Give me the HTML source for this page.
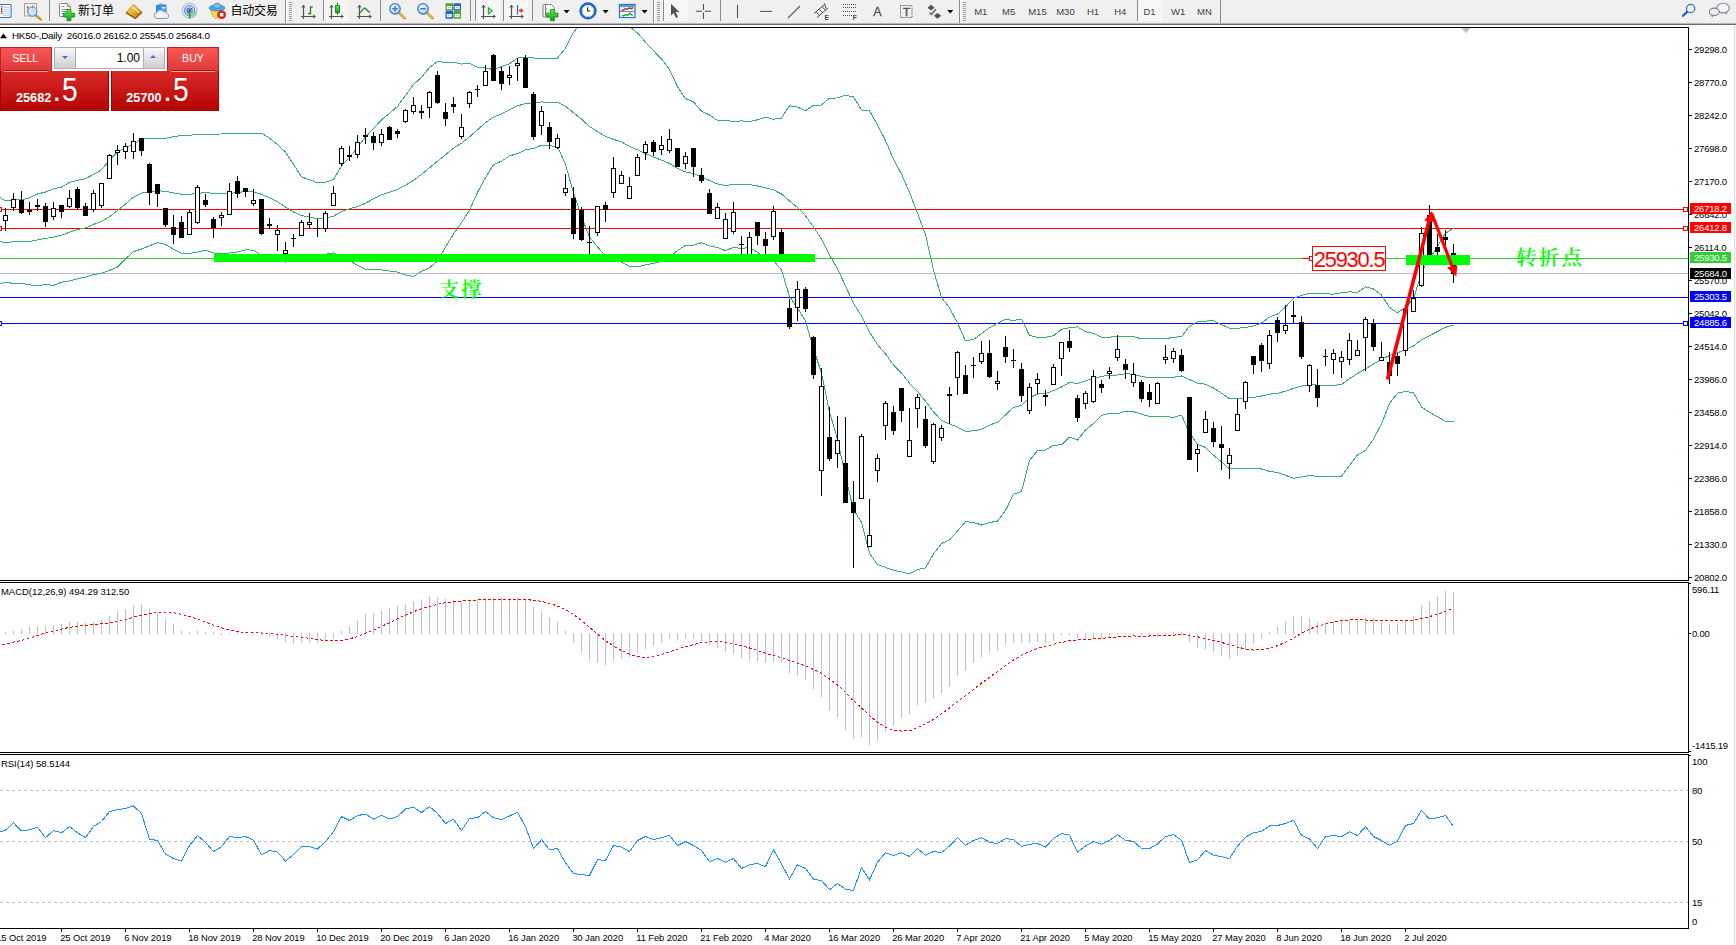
<!DOCTYPE html>
<html lang="zh">
<head>
<meta charset="utf-8">
<title>HK50-,Daily</title>
<style>
html,body{margin:0;padding:0;background:#fff;}
body{width:1736px;height:945px;position:relative;overflow:hidden;font-family:"Liberation Sans","Noto Sans CJK SC",sans-serif;}
#tb{position:absolute;left:0;top:0;width:1736px;height:23px;background:#f0f0f0;}
#tbl1{position:absolute;left:0;top:23px;width:1736px;height:1px;background:#b8b8b8;}
#tbl2{position:absolute;left:0;top:24px;width:1736px;height:1px;background:#6a6a6a;}
#redge{position:absolute;left:1734px;top:25px;width:2px;height:920px;background:#f4f4f4;border-left:1px solid #e0e0e0;box-sizing:border-box;}
#chart{position:absolute;left:0;top:0;}
#chart text{font-family:"Liberation Sans","Noto Sans CJK SC",sans-serif;}
#tp{position:absolute;left:0;top:47px;width:220px;height:64px;font-family:"Liberation Sans",sans-serif;}
#tp div{position:absolute;box-sizing:border-box;}
.tab{background:linear-gradient(#f85656,#e03a3a);border:1px solid #c81e1e;border-bottom:none;color:#fff;font-size:10.700px;text-align:center;line-height:21px;}
.big{background:linear-gradient(#d92a2a,#b50404);border:1px solid #a80000;border-top:none;color:#fff;}
.spin{background:linear-gradient(#f8f8f8,#e4e4e4 45%,#d0d0d0);}
</style>
</head>
<body>
<div id="tb"><svg id="tbs" width="1736" height="23" viewBox="0 0 1736 23" style="position:absolute;left:0;top:0">
<defs>
<pattern id="chk" width="2" height="2" patternUnits="userSpaceOnUse"><rect width="2" height="2" fill="#f0f0f0"/><rect width="1" height="1" fill="#fff"/><rect x="1" y="1" width="1" height="1" fill="#fff"/></pattern>
<linearGradient id="gold" x1="0" y1="0" x2="1" y2="1"><stop offset="0" stop-color="#f8dc70"/><stop offset="0.5" stop-color="#e8b030"/><stop offset="1" stop-color="#a87010"/></linearGradient>
<linearGradient id="grn" x1="0" y1="0" x2="0" y2="1"><stop offset="0" stop-color="#60f060"/><stop offset="1" stop-color="#10a010"/></linearGradient>
<linearGradient id="blu" x1="0" y1="0" x2="0" y2="1"><stop offset="0" stop-color="#58a8f0"/><stop offset="1" stop-color="#1858c0"/></linearGradient>
<radialGradient id="lens" cx="0.4" cy="0.35" r="0.7"><stop offset="0" stop-color="#f4faff"/><stop offset="1" stop-color="#a8cdf0"/></radialGradient>
<g id="axes" stroke="#505050" stroke-width="1.2" fill="none"><path d="M3.5 5.5V19M1 16.5H15"/><path d="M1.8 7.6L3.5 5.2L5.2 7.6M13 14.8L15.4 16.5L13 18.2" stroke-width="1"/></g>
<g id="dd"><path d="M0 10h6l-3 3.4z" fill="#000"/></g>
<g id="grip" stroke="#a0a0a0" stroke-width="1"><path d="M0 1.5h3M0 3.5h3M0 5.5h3M0 7.5h3M0 9.5h3M0 11.5h3M0 13.5h3M0 15.5h3M0 17.5h3M0 19.5h3"/></g>
<g id="plus"><path d="M-1.9 -5.6h3.8v3.7h3.7v3.8h-3.7v3.7h-3.8v-3.7h-3.7v-3.8h3.7z" fill="url(#grn)" stroke="#108010" stroke-width="0.8"/></g>
</defs>
<!-- pressed buttons -->
<rect x="324" y="0" width="24" height="21" fill="url(#chk)"/>
<rect x="476" y="0" width="24" height="21" fill="url(#chk)"/>
<rect x="504" y="0" width="24" height="21" fill="url(#chk)"/>
<rect x="664" y="0" width="24" height="21" fill="url(#chk)"/>
<rect x="1138" y="0" width="24" height="21" fill="url(#chk)"/>
<!-- separators -->
<g fill="#8c8c8c">
<rect x="49" y="0" width="1" height="21"/><rect x="285" y="0" width="1" height="23"/><rect x="323" y="0" width="1" height="21"/>
<rect x="380" y="0" width="1" height="21"/><rect x="470" y="0" width="1" height="21"/><rect x="475" y="0" width="1" height="21"/>
<rect x="503" y="0" width="1" height="21"/><rect x="532" y="0" width="1" height="21"/><rect x="653" y="0" width="1" height="23"/>
<rect x="663" y="0" width="1" height="21"/><rect x="720" y="0" width="1" height="21"/><rect x="959" y="0" width="1" height="23"/>
<rect x="1137" y="0" width="1" height="21"/><rect x="1220" y="0" width="1" height="23"/>
</g>
<g fill="#fff"><rect x="286" y="0" width="1" height="23"/><rect x="654" y="0" width="1" height="23"/><rect x="960" y="0" width="1" height="23"/></g>
<use href="#grip" x="289" y="1"/><use href="#grip" x="657" y="1"/><use href="#grip" x="963" y="1"/>
<!-- 1 list -->
<rect x="-2" y="4.5" width="13" height="13" rx="1" fill="#fff" stroke="#3878c8" stroke-width="1.2"/>
<g stroke="#b8d0f0" stroke-width="1"><path d="M3 7.5h8M3 9.5h8M3 11.5h8M3 13.5h8M3 15.5h8"/></g>
<g><rect x="1" y="6" width="1.4" height="1.4" fill="#e02020"/><rect x="1" y="8.3" width="1.4" height="1.4" fill="#202020"/><rect x="1" y="10.5" width="1.4" height="1.4" fill="#202020"/><rect x="1" y="12.6" width="1.4" height="1.4" fill="#e02020"/></g>
<!-- 2 chart magnifier -->
<rect x="24.5" y="3.5" width="12" height="12.5" fill="#f4f0e8" stroke="#b0a490" stroke-width="1"/>
<path d="M28 6v7M27 7.5h1M28 11h1M33 5.5v7M32 6.5h1M33 10.5h1" stroke="#606060" stroke-width="1" fill="none"/>
<path d="M35.5 15L41 19.6" stroke="#c89820" stroke-width="2.4" stroke-linecap="round"/>
<circle cx="32.3" cy="11.6" r="4.6" fill="#cfe2f6" fill-opacity="0.85" stroke="#5890d8" stroke-width="1.1"/>
<!-- 3 new order -->
<path d="M59.5 4.5q0-1 1-1h6.8l3.2 3.2v8.8q0 1-1 1h-9q-1 0-1-1z" fill="#fff" stroke="#808080" stroke-width="1"/>
<path d="M67.3 3.5v3.2h3.2" fill="#e0e0e0" stroke="#808080" stroke-width="0.8"/>
<path d="M61.5 6.5h3M61.5 9.5h6M61.5 11.5h6M61.5 13.5h3" stroke="#909090" stroke-width="1"/>
<use href="#plus" x="69" y="15.1"/>
<text x="78" y="15" font-size="12" fill="#000">新订单</text>
<!-- 4 gold book -->
<path d="M133.5 4.3L142 12.2L135.3 18.4L126 12.6z" fill="url(#gold)" stroke="#b88418" stroke-width="0.8"/>
<path d="M126 12.6l9.3 5.8 6.7-6.2" fill="none" stroke="#8c5c08" stroke-width="1.4"/>
<path d="M132 6.5l7 6" stroke="#fbe9a0" stroke-width="1.2"/>
<!-- 5 cloud server -->
<path d="M156 5.2l4.5-1.7 6 1.2v7.8h-10.5z" fill="url(#blu)"/>
<path d="M156 5.2l4.5 1 0 6.3h-4.5z" fill="#2a8ae8"/>
<rect x="161.5" y="7" width="4" height="1.6" fill="#e8f4ff"/><rect x="161.5" y="9.6" width="4" height="1" fill="#bcdcf8"/>
<path d="M157.2 18.5a2.9 2.9 0 0 1 -0.3 -5.8a3.6 3.6 0 0 1 6.6 -1a3 3 0 0 1 3.6 2a2.5 2.5 0 0 1 -0.4 4.8z" fill="#eef4fc" stroke="#7c98c8" stroke-width="1"/>
<!-- 6 signals -->
<g fill="none" stroke-width="1.2">
<circle cx="189.6" cy="10.6" r="7.4" stroke="#a8c4ec"/>
<circle cx="189.6" cy="10.6" r="5" stroke="#5888d8"/>
<circle cx="189.6" cy="10.6" r="2.6" stroke="#3060c8"/>
</g>
<path d="M189.6 10.6L197 10.6A7.4 7.4 0 0 1 189.6 18.4z" fill="#8ccc8c" fill-opacity="0.75"/>
<path d="M189.6 10.6v8" stroke="#28a028" stroke-width="1.6"/>
<circle cx="189.6" cy="10.4" r="1.5" fill="#2858c8"/>
<!-- 7 auto trading -->
<path d="M211 9.5l10.5 0l-2 6l-4 3.2l-3 -3z" fill="#f8dc50" stroke="#d0a020" stroke-width="0.8"/>
<ellipse cx="217" cy="8" rx="8" ry="3" fill="#58a8e0" stroke="#3880c0" stroke-width="0.8"/>
<path d="M212.8 7.6q0.6-4.4 4.3-4.4t4.2 4.4q-4.2 1.6-8.5 0z" fill="#78c0ec" stroke="#3880c0" stroke-width="0.8"/>
<circle cx="221.6" cy="14.7" r="4" fill="#e02810" stroke="#b01808" stroke-width="0.6"/>
<rect x="219.9" y="13" width="3.4" height="3.4" fill="#fff"/>
<text x="230.5" y="15" font-size="12" fill="#000" letter-spacing="-0.25">自动交易</text>
<!-- 8 bar chart -->
<use href="#axes" x="300" y="0"/>
<path d="M310.5 6.5v8M310.5 7h2.2M308 13.5h2.5" stroke="#188a18" stroke-width="1.3" fill="none"/>
<!-- 9 candle chart -->
<use href="#axes" x="328" y="0"/>
<path d="M337.5 3v12" stroke="#188a18" stroke-width="1.2"/>
<rect x="335.5" y="5.6" width="4" height="7" fill="url(#grn)" stroke="#188a18" stroke-width="0.9"/>
<!-- 10 line chart -->
<use href="#axes" x="356" y="0"/>
<path d="M358.3 13.8q3.5-2 5-5q1.3-1.6 2.8 0.2q1.6 2.2 3.8 3.4" stroke="#209020" stroke-width="1.3" fill="none"/>
<!-- 11/12 zoom -->
<g id="zin">
<path d="M399.2 13L404.6 18.2" stroke="#c8a020" stroke-width="2.6" stroke-linecap="round"/>
<path d="M399.6 13.4L404.2 17.8" stroke="#f0d868" stroke-width="1" stroke-linecap="round"/>
<circle cx="395" cy="8.8" r="5.2" fill="url(#lens)" stroke="#3878d0" stroke-width="1.3"/>
</g>
<path d="M392.2 8.8h5.6M395 6v5.6" stroke="#4878a8" stroke-width="1.5"/>
<use href="#zin" x="28" y="0"/>
<path d="M420.2 8.8h5.6" stroke="#4878a8" stroke-width="1.5"/>
<!-- 13 tile -->
<g>
<rect x="445.5" y="3.2" width="7.6" height="7.6" rx="0.8" fill="#48a828"/><rect x="453.4" y="3.2" width="7.6" height="7.6" rx="0.8" fill="#2860d0"/>
<rect x="445.5" y="11.1" width="7.6" height="7.6" rx="0.8" fill="#2860d0"/><rect x="453.4" y="11.1" width="7.6" height="7.6" rx="0.8" fill="#48a828"/>
<g fill="#fff"><rect x="446.8" y="6" width="5" height="3.2"/><rect x="454.7" y="6" width="5" height="3.2"/><rect x="446.8" y="14" width="5" height="3.2"/><rect x="454.7" y="14" width="5" height="3.2"/></g>
<g fill="#9cc8f0"><rect x="447.8" y="7" width="3" height="1"/><rect x="455.7" y="7" width="3" height="1"/><rect x="447.8" y="15" width="3" height="1"/><rect x="455.7" y="15" width="3" height="1"/></g>
</g>
<!-- 14 autoscroll -->
<use href="#axes" x="480" y="0"/>
<path d="M488.3 7.4v6.8l4.2-3.4z" fill="#90e890" stroke="#189818" stroke-width="1"/>
<!-- 15 shift -->
<use href="#axes" x="508" y="0"/>
<path d="M517.5 5v9.6" stroke="#2070b8" stroke-width="1.2"/>
<path d="M518.6 10.6l3-2.2v1.5h1.6v1.4h-1.6v1.5z" fill="#e84810" stroke="#c03000" stroke-width="0.4"/>
<!-- 16 indicators -->
<path d="M545.5 4.5h5.8l2.8 2.8v8.4h-8.6z" fill="#fff" stroke="#808080" stroke-width="1"/>
<path d="M543 5.5q0-1 1-1h1.5v11.2h7v0.3q0 1-1 1h-7.500q-1 0-1-1z" fill="#f4f4f4" stroke="#808080" stroke-width="1"/>
<path d="M546.500 8q-1.600 2.500 0 5" fill="none" stroke="#909090" stroke-width="0.9"/>
<use href="#plus" x="552.4" y="15.100"/>
<use href="#dd" x="563.6" y="0"/>
<!-- 17 clock -->
<circle cx="588" cy="10.9" r="7.200" fill="#fff" stroke="#1c6cd0" stroke-width="2.400"/>
<circle cx="588" cy="10.900" r="8.300" fill="none" stroke="#0c4aa0" stroke-width="0.5"/>
<path d="M587.600 7.200v3.800h2.600" stroke="#202020" stroke-width="1.100" fill="none"/><circle cx="588" cy="10.900" r="5.600" fill="none" stroke="#d8e4f4" stroke-width="0.800"/>
<g fill="#808080"><rect x="587.600" y="4.800" width="0.800" height="1"/><rect x="587.600" y="16" width="0.800" height="1"/><rect x="582" y="10.500" width="1" height="0.800"/><rect x="593" y="10.500" width="1" height="0.800"/></g>
<use href="#dd" x="602.600" y="0"/>
<!-- 18 templates -->
<rect x="619.500" y="4.500" width="15.500" height="13" fill="#fff" stroke="#3070c0" stroke-width="1.200"/>
<rect x="620" y="5" width="14.500" height="2.200" fill="#5a9ae0"/>
<path d="M620 11.600h14.500" stroke="#3070c0" stroke-width="0.900"/>
<path d="M621.500 10.200l2-0.200 1.800-1.300 1.800 0.600 2-1.400 2 0.800 2-1" stroke="#a82810" stroke-width="1.300" fill="none"/>
<path d="M622 15.600l2 0.200 1.800-1.300 1.800 0.800 2.200-2 1.600 1.500 1.400 0.600" stroke="#189018" stroke-width="1.300" fill="none"/>
<use href="#dd" x="641.600" y="0"/>
<!-- cursor -->
<path d="M671 3.800v11.700l2.700-2.600 2.300 5.200 2-0.900-2.300-5.100h3.600z" fill="#505050"/>
<!-- crosshair -->
<path d="M703.500 4v6M703.500 12.600v6.400M696 11.300h6.200M704.800 11.300h6.400" stroke="#505050" stroke-width="1.100"/>
<!-- v line, h line, trend -->
<path d="M737.500 5v13" stroke="#585858" stroke-width="1.100"/>
<path d="M760 11.400h12" stroke="#585858" stroke-width="1.100"/>
<path d="M788 18l12-12" stroke="#585858" stroke-width="1.100"/>
<!-- channel E -->
<g stroke="#505050" stroke-width="1" fill="none">
<path d="M814 13.500l11-9.500M817 17.500l11-9.500"/>
<path d="M816 11.700l3.800 4M819 9l3.800 4M822 6.500l3.800 4M824.500 3.500l1.800 5"/>
</g>
<text x="824.600" y="19.800" font-size="6.500" font-weight="bold" fill="#404040">E</text>
<!-- fibo F -->
<g stroke="#505050" stroke-width="1" stroke-dasharray="1 1" fill="none">
<path d="M843 4.500h14M843 7.500h14M843 11.500h14M843 15.500h9"/>
</g>
<text x="852.800" y="19.800" font-size="6.500" font-weight="bold" fill="#404040">F</text>
<!-- A -->
<text x="873.300" y="16" font-size="12.500" fill="#505050" stroke="#505050" stroke-width="0.300">A</text>
<!-- T label -->
<rect x="900.500" y="5.500" width="11.500" height="12" fill="none" stroke="#505050" stroke-width="1" stroke-dasharray="1 1"/>
<text x="902.900" y="16" font-size="11.500" fill="#505050" stroke="#505050" stroke-width="0.400">T</text>
<!-- arrows -->
<path d="M931 4.800l3.400 3-3.400 2.800-3.400-2.800z" fill="#505050"/>
<path d="M937.500 13l3.600 2.800-3.600 3-3.600-3z" fill="#505050"/>
<path d="M929.500 12.600l2 2 4.300-5.400" stroke="#505050" stroke-width="1.300" fill="none"/>
<use href="#dd" x="947.300" y="0"/>
<!-- periods -->
<g font-size="9.500" fill="#404040">
<text x="974.200" y="14.500">M1</text><text x="1002" y="14.500">M5</text><text x="1028.200" y="14.500">M15</text><text x="1056.200" y="14.500">M30</text>
<text x="1087" y="14.500">H1</text><text x="1114.200" y="14.500">H4</text><text x="1143.500" y="14.500">D1</text><text x="1171" y="14.500">W1</text><text x="1197" y="14.500">MN</text>
</g>
<!-- search -->
<path d="M1687.600 11.400L1683 15.800" stroke="#2858c8" stroke-width="2.200" stroke-linecap="round"/>
<circle cx="1690.600" cy="8.500" r="4.100" fill="#f8f8f8" stroke="#2868d8" stroke-width="1.200"/>
<!-- chat -->
<path d="M1727.500 12.500l-1.200 2-1.600-2z" fill="#808080"/>
<ellipse cx="1723" cy="8.100" rx="6.300" ry="4.800" fill="#f6f6fa" stroke="#8a8a8a" stroke-width="1.100"/>
<path d="M1711.200 15l0.800 2.600 2-2.200z" fill="#808080"/>
<ellipse cx="1714.300" cy="11.800" rx="5" ry="3.700" fill="#ececf4" stroke="#808080" stroke-width="1.100"/>
</svg>
</div>
<div id="tbl1"></div><div id="tbl2"></div>
<div id="redge"></div>
<svg id="chart" width="1736" height="945" viewBox="0 0 1736 945">
<defs><clipPath id="cpm"><rect x="0" y="28" width="1688" height="552"/></clipPath></defs>
<g clip-path="url(#cpm)">
<rect x="0" y="209" width="1688" height="1" fill="#ff0000"/>
<rect x="0" y="228" width="1688" height="1" fill="#ff0000"/>
<rect x="0" y="258" width="1688" height="1" fill="#32cd32"/>
<rect x="0" y="273" width="1688" height="1" fill="#c0c0c0"/>
<rect x="0" y="297" width="1688" height="1" fill="#0000ff"/>
<rect x="0" y="323" width="1688" height="1" fill="#0000ff"/>
<polyline points="-2.5,196.0 5.5,201.0 13.5,199.7 21.5,200.0 29.5,197.8 37.5,194.0 45.5,192.0 53.5,188.9 61.5,187.0 69.5,182.5 77.5,180.3 85.5,178.6 93.5,174.4 101.5,169.9 109.5,160.2 117.5,151.8 125.5,147.6 133.5,144.3 141.5,138.6 149.5,138.4 157.5,138.8 165.5,138.2 173.5,136.8 181.5,135.3 189.5,135.2 197.5,134.5 205.5,134.8 213.5,134.1 221.5,134.0 229.5,133.7 237.5,133.3 245.5,133.1 253.5,133.3 261.5,133.2 269.5,138.1 277.5,144.6 285.5,152.1 293.5,164.3 301.5,176.9 309.5,179.8 317.5,182.8 325.5,182.2 333.5,179.4 341.5,165.9 349.5,157.2 357.5,147.7 365.5,136.9 373.5,128.7 381.5,119.8 389.5,113.4 397.5,106.4 405.5,95.5 413.5,84.5 421.5,77.4 429.5,67.5 437.5,61.6 445.5,62.3 453.5,62.1 461.5,64.1 469.5,63.3 477.5,67.2 485.5,67.8 493.5,69.7 501.5,66.6 509.5,63.8 517.5,58.1 525.5,57.2 533.5,57.9 541.5,58.9 549.5,58.6 557.5,58.1 565.5,48.3 573.5,32.4 581.5,21.6 589.5,16.1 597.5,16.7 605.5,16.5 613.5,19.7 621.5,21.2 629.5,26.8 637.5,32.9 645.5,42.2 653.5,50.7 661.5,59.0 669.5,69.5 677.5,86.6 685.5,98.6 693.5,101.8 701.5,111.2 709.5,115.0 717.5,120.5 725.5,120.2 733.5,121.7 741.5,120.9 749.5,121.5 757.5,119.8 765.5,117.2 773.5,119.3 781.5,118.0 789.5,105.7 797.5,107.1 805.5,110.6 813.5,105.3 821.5,105.0 829.5,98.1 837.5,98.0 845.5,95.3 853.5,96.9 861.5,110.0 869.5,111.0 877.5,124.8 885.5,140.5 893.5,159.3 901.5,174.2 909.5,192.5 917.5,213.0 925.5,234.7 933.5,269.9 941.5,297.4 949.5,307.9 957.5,323.0 965.5,340.9 973.5,339.4 981.5,333.4 989.5,327.8 997.5,323.3 1005.5,319.4 1013.5,320.4 1021.5,319.3 1029.5,335.4 1037.5,337.5 1045.5,337.3 1053.5,335.7 1061.5,329.3 1069.5,327.7 1077.5,326.9 1085.5,331.7 1093.5,333.4 1101.5,337.3 1109.5,337.1 1117.5,336.4 1125.5,336.1 1133.5,336.7 1141.5,338.8 1149.5,338.6 1157.5,338.7 1165.5,338.8 1173.5,337.2 1181.5,336.8 1189.5,326.2 1197.5,321.8 1205.5,321.1 1213.5,320.7 1221.5,324.6 1229.5,328.3 1237.5,328.3 1245.5,327.4 1253.5,326.0 1261.5,322.9 1269.5,317.1 1277.5,314.1 1285.5,307.0 1293.5,298.3 1301.5,295.3 1309.5,293.4 1317.5,293.9 1325.5,293.9 1333.5,294.1 1341.5,292.8 1349.5,291.8 1357.5,292.4 1365.5,286.9 1373.5,288.9 1381.5,295.0 1389.5,307.4 1397.5,312.8 1405.5,307.1 1413.5,299.0 1421.5,272.3 1429.5,258.8 1437.5,246.4 1445.5,233.2 1453.5,228.2" fill="none" stroke="#38b06c" stroke-width="1" shape-rendering="crispEdges"/>
<polyline points="-2.5,241.4 5.5,242.5 13.5,241.8 21.5,241.8 29.5,241.6 37.5,239.9 45.5,238.4 53.5,237.1 61.5,235.2 69.5,232.3 77.5,229.5 85.5,228.0 93.5,224.4 101.5,221.3 109.5,216.8 117.5,210.5 125.5,204.1 133.5,197.1 141.5,193.1 149.5,192.3 157.5,190.8 165.5,191.3 173.5,193.0 181.5,194.3 189.5,194.3 197.5,193.4 205.5,192.5 213.5,193.5 221.5,193.7 229.5,193.3 237.5,192.6 245.5,191.4 253.5,191.8 261.5,194.3 269.5,197.8 277.5,201.8 285.5,207.0 293.5,212.0 301.5,215.5 309.5,217.0 317.5,218.8 325.5,218.2 333.5,216.1 341.5,211.6 349.5,208.8 357.5,206.6 365.5,203.1 373.5,198.9 381.5,194.8 389.5,192.3 397.5,189.3 405.5,185.2 413.5,180.4 421.5,174.4 429.5,167.7 437.5,161.3 445.5,154.7 453.5,148.1 461.5,143.3 469.5,136.8 477.5,129.8 485.5,122.7 493.5,117.1 501.5,113.9 509.5,109.8 517.5,105.9 525.5,103.5 533.5,103.2 541.5,102.0 549.5,102.1 557.5,102.4 565.5,106.3 573.5,112.7 581.5,119.1 589.5,126.6 597.5,131.7 605.5,136.3 613.5,139.4 621.5,141.8 629.5,146.5 637.5,149.9 645.5,153.5 653.5,157.1 661.5,160.1 669.5,163.4 677.5,168.5 685.5,172.0 693.5,173.5 701.5,176.9 709.5,180.5 717.5,184.0 725.5,185.5 733.5,184.5 741.5,184.7 749.5,184.5 757.5,186.0 765.5,187.8 773.5,189.9 781.5,194.0 789.5,201.0 797.5,207.6 805.5,215.8 813.5,227.0 821.5,239.1 829.5,255.0 837.5,268.7 845.5,286.0 853.5,303.3 861.5,316.1 869.5,332.1 877.5,344.7 885.5,353.9 893.5,364.8 901.5,373.1 909.5,383.2 917.5,391.3 925.5,401.3 933.5,411.9 941.5,420.5 949.5,423.9 957.5,427.1 965.5,431.3 973.5,430.9 981.5,429.2 989.5,425.1 997.5,422.2 1005.5,414.9 1013.5,407.4 1021.5,405.3 1029.5,398.0 1037.5,394.0 1045.5,393.7 1053.5,390.5 1061.5,387.1 1069.5,382.4 1077.5,383.5 1085.5,380.8 1093.5,378.4 1101.5,376.4 1109.5,375.2 1117.5,375.0 1125.5,373.8 1133.5,374.2 1141.5,376.5 1149.5,377.6 1157.5,377.7 1165.5,377.8 1173.5,377.2 1181.5,376.0 1189.5,379.6 1197.5,383.1 1205.5,384.3 1213.5,388.0 1221.5,393.2 1229.5,398.6 1237.5,398.5 1245.5,397.9 1253.5,397.4 1261.5,396.0 1269.5,394.2 1277.5,393.4 1285.5,391.2 1293.5,388.3 1301.5,386.2 1309.5,384.4 1317.5,385.2 1325.5,385.2 1333.5,385.3 1341.5,384.6 1349.5,378.6 1357.5,373.7 1365.5,368.7 1373.5,364.0 1381.5,359.4 1389.5,355.5 1397.5,352.9 1405.5,349.3 1413.5,346.0 1421.5,339.6 1429.5,335.6 1437.5,331.5 1445.5,327.3 1453.5,325.1" fill="none" stroke="#38b06c" stroke-width="1" shape-rendering="crispEdges"/>
<polyline points="-2.5,285.0 5.5,282.2 13.5,283.5 21.5,283.5 29.5,284.8 37.5,285.7 45.5,284.4 53.5,285.4 61.5,282.2 69.5,281.0 77.5,278.8 85.5,277.1 93.5,274.6 101.5,273.3 109.5,270.4 117.5,267.0 125.5,259.0 133.5,251.7 141.5,249.0 149.5,245.8 157.5,242.7 165.5,244.3 173.5,249.3 181.5,253.3 189.5,253.4 197.5,252.2 205.5,250.2 213.5,253.0 221.5,253.4 229.5,253.0 237.5,251.9 245.5,249.8 253.5,250.2 261.5,255.4 269.5,257.6 277.5,259.1 285.5,262.0 293.5,259.6 301.5,254.2 309.5,254.3 317.5,254.8 325.5,254.2 333.5,252.9 341.5,257.4 349.5,260.5 357.5,265.4 365.5,269.4 373.5,269.1 381.5,269.9 389.5,271.1 397.5,272.1 405.5,274.9 413.5,276.4 421.5,271.4 429.5,267.9 437.5,261.0 445.5,247.1 453.5,234.0 461.5,222.6 469.5,210.2 477.5,192.4 485.5,177.6 493.5,164.6 501.5,161.2 509.5,155.8 517.5,153.7 525.5,149.7 533.5,148.5 541.5,145.2 549.5,145.7 557.5,146.6 565.5,164.3 573.5,193.0 581.5,216.6 589.5,237.0 597.5,246.8 605.5,256.1 613.5,259.1 621.5,262.3 629.5,266.3 637.5,266.8 645.5,264.9 653.5,263.4 661.5,261.2 669.5,257.2 677.5,250.4 685.5,245.3 693.5,245.1 701.5,242.7 709.5,246.0 717.5,247.5 725.5,250.8 733.5,247.2 741.5,248.6 749.5,247.4 757.5,252.2 765.5,258.3 773.5,260.5 781.5,270.1 789.5,296.4 797.5,308.1 805.5,321.0 813.5,348.7 821.5,373.1 829.5,411.9 837.5,439.3 845.5,476.7 853.5,509.7 861.5,522.2 869.5,553.3 877.5,564.6 885.5,567.3 893.5,570.3 901.5,571.9 909.5,573.9 917.5,569.6 925.5,567.9 933.5,554.0 941.5,543.5 949.5,539.9 957.5,531.1 965.5,521.7 973.5,522.4 981.5,525.0 989.5,522.5 997.5,521.2 1005.5,510.5 1013.5,494.3 1021.5,491.4 1029.5,460.5 1037.5,450.5 1045.5,450.0 1053.5,445.3 1061.5,444.8 1069.5,437.2 1077.5,440.0 1085.5,430.0 1093.5,423.4 1101.5,415.5 1109.5,413.3 1117.5,413.6 1125.5,411.4 1133.5,411.7 1141.5,414.1 1149.5,416.6 1157.5,416.7 1165.5,416.7 1173.5,417.3 1181.5,415.2 1189.5,433.1 1197.5,444.4 1205.5,447.4 1213.5,455.2 1221.5,461.9 1229.5,469.0 1237.5,468.6 1245.5,468.4 1253.5,468.7 1261.5,469.0 1269.5,471.3 1277.5,472.6 1285.5,475.3 1293.5,478.2 1301.5,477.0 1309.5,475.5 1317.5,476.4 1325.5,476.4 1333.5,476.4 1341.5,476.3 1349.5,465.4 1357.5,455.0 1365.5,450.5 1373.5,439.0 1381.5,423.9 1389.5,403.6 1397.5,393.1 1405.5,391.4 1413.5,392.9 1421.5,406.9 1429.5,412.4 1437.5,416.7 1445.5,421.3 1453.5,422.0" fill="none" stroke="#38b06c" stroke-width="1" shape-rendering="crispEdges"/>
<rect x="5" y="208" width="1" height="23" fill="#000"/>
<rect x="3" y="215" width="5" height="6" fill="#000"/>
<rect x="4" y="216" width="3" height="4" fill="#fff"/>
<rect x="13" y="193" width="1" height="18" fill="#000"/>
<rect x="11" y="199" width="5" height="9" fill="#000"/>
<rect x="12" y="200" width="3" height="7" fill="#fff"/>
<rect x="21" y="191" width="1" height="23" fill="#000"/>
<rect x="19" y="200" width="5" height="13" fill="#000"/>
<rect x="29" y="202" width="1" height="13" fill="#000"/>
<rect x="27" y="210" width="5" height="2" fill="#000"/>
<rect x="37" y="199" width="1" height="12" fill="#000"/>
<rect x="35" y="205" width="5" height="2" fill="#000"/>
<rect x="45" y="203" width="1" height="24" fill="#000"/>
<rect x="43" y="206" width="5" height="16" fill="#000"/>
<rect x="53" y="202" width="1" height="18" fill="#000"/>
<rect x="51" y="208" width="5" height="9" fill="#000"/>
<rect x="52" y="209" width="3" height="7" fill="#fff"/>
<rect x="61" y="205" width="1" height="13" fill="#000"/>
<rect x="59" y="205" width="5" height="7" fill="#000"/>
<rect x="69" y="190" width="1" height="18" fill="#000"/>
<rect x="67" y="198" width="5" height="9" fill="#000"/>
<rect x="68" y="199" width="3" height="7" fill="#fff"/>
<rect x="77" y="187" width="1" height="22" fill="#000"/>
<rect x="75" y="189" width="5" height="19" fill="#000"/>
<rect x="85" y="203" width="1" height="13" fill="#000"/>
<rect x="83" y="206" width="5" height="10" fill="#000"/>
<rect x="93" y="190" width="1" height="22" fill="#000"/>
<rect x="91" y="193" width="5" height="17" fill="#000"/>
<rect x="92" y="194" width="3" height="15" fill="#fff"/>
<rect x="101" y="183" width="1" height="25" fill="#000"/>
<rect x="99" y="183" width="5" height="23" fill="#000"/>
<rect x="100" y="184" width="3" height="21" fill="#fff"/>
<rect x="109" y="154" width="1" height="25" fill="#000"/>
<rect x="107" y="155" width="5" height="24" fill="#000"/>
<rect x="108" y="156" width="3" height="22" fill="#fff"/>
<rect x="117" y="145" width="1" height="20" fill="#000"/>
<rect x="115" y="150" width="5" height="3" fill="#000"/>
<rect x="116" y="151" width="3" height="1" fill="#fff"/>
<rect x="125" y="143" width="1" height="16" fill="#000"/>
<rect x="123" y="146" width="5" height="6" fill="#000"/>
<rect x="124" y="147" width="3" height="4" fill="#fff"/>
<rect x="133" y="133" width="1" height="26" fill="#000"/>
<rect x="131" y="141" width="5" height="11" fill="#000"/>
<rect x="132" y="142" width="3" height="9" fill="#fff"/>
<rect x="141" y="138" width="1" height="18" fill="#000"/>
<rect x="139" y="138" width="5" height="13" fill="#000"/>
<rect x="149" y="163" width="1" height="42" fill="#000"/>
<rect x="147" y="164" width="5" height="29" fill="#000"/>
<rect x="157" y="184" width="1" height="23" fill="#000"/>
<rect x="155" y="184" width="5" height="10" fill="#000"/>
<rect x="165" y="208" width="1" height="19" fill="#000"/>
<rect x="163" y="208" width="5" height="17" fill="#000"/>
<rect x="173" y="215" width="1" height="29" fill="#000"/>
<rect x="171" y="227" width="5" height="8" fill="#000"/>
<rect x="181" y="216" width="1" height="22" fill="#000"/>
<rect x="179" y="222" width="5" height="16" fill="#000"/>
<rect x="189" y="210" width="1" height="25" fill="#000"/>
<rect x="187" y="212" width="5" height="23" fill="#000"/>
<rect x="188" y="213" width="3" height="21" fill="#fff"/>
<rect x="197" y="185" width="1" height="39" fill="#000"/>
<rect x="195" y="187" width="5" height="36" fill="#000"/>
<rect x="196" y="188" width="3" height="34" fill="#fff"/>
<rect x="205" y="194" width="1" height="13" fill="#000"/>
<rect x="203" y="200" width="5" height="5" fill="#000"/>
<rect x="213" y="217" width="1" height="21" fill="#000"/>
<rect x="211" y="219" width="5" height="9" fill="#000"/>
<rect x="221" y="212" width="1" height="14" fill="#000"/>
<rect x="219" y="215" width="5" height="3" fill="#000"/>
<rect x="220" y="216" width="3" height="1" fill="#fff"/>
<rect x="229" y="183" width="1" height="32" fill="#000"/>
<rect x="227" y="191" width="5" height="24" fill="#000"/>
<rect x="228" y="192" width="3" height="22" fill="#fff"/>
<rect x="237" y="176" width="1" height="22" fill="#000"/>
<rect x="235" y="181" width="5" height="13" fill="#000"/>
<rect x="245" y="188" width="1" height="9" fill="#000"/>
<rect x="243" y="188" width="5" height="4" fill="#000"/>
<rect x="253" y="189" width="1" height="17" fill="#000"/>
<rect x="251" y="200" width="5" height="4" fill="#000"/>
<rect x="252" y="201" width="3" height="2" fill="#fff"/>
<rect x="261" y="199" width="1" height="36" fill="#000"/>
<rect x="259" y="199" width="5" height="35" fill="#000"/>
<rect x="269" y="218" width="1" height="11" fill="#000"/>
<rect x="267" y="224" width="5" height="2" fill="#000"/>
<rect x="277" y="225" width="1" height="26" fill="#000"/>
<rect x="275" y="230" width="5" height="5" fill="#000"/>
<rect x="276" y="231" width="3" height="3" fill="#fff"/>
<rect x="285" y="242" width="1" height="12" fill="#000"/>
<rect x="283" y="250" width="5" height="4" fill="#000"/>
<rect x="284" y="251" width="3" height="2" fill="#fff"/>
<rect x="293" y="234" width="1" height="13" fill="#000"/>
<rect x="291" y="238" width="5" height="1" fill="#000"/>
<rect x="301" y="220" width="1" height="16" fill="#000"/>
<rect x="299" y="222" width="5" height="14" fill="#000"/>
<rect x="300" y="223" width="3" height="12" fill="#fff"/>
<rect x="309" y="213" width="1" height="15" fill="#000"/>
<rect x="307" y="222" width="5" height="3" fill="#000"/>
<rect x="308" y="223" width="3" height="1" fill="#fff"/>
<rect x="317" y="219" width="1" height="18" fill="#000"/>
<rect x="315" y="228" width="5" height="1" fill="#000"/>
<rect x="325" y="211" width="1" height="21" fill="#000"/>
<rect x="323" y="213" width="5" height="16" fill="#000"/>
<rect x="324" y="214" width="3" height="14" fill="#fff"/>
<rect x="333" y="186" width="1" height="20" fill="#000"/>
<rect x="331" y="193" width="5" height="13" fill="#000"/>
<rect x="332" y="194" width="3" height="11" fill="#fff"/>
<rect x="341" y="146" width="1" height="20" fill="#000"/>
<rect x="339" y="148" width="5" height="16" fill="#000"/>
<rect x="340" y="149" width="3" height="14" fill="#fff"/>
<rect x="349" y="146" width="1" height="15" fill="#000"/>
<rect x="347" y="155" width="5" height="2" fill="#000"/>
<rect x="357" y="135" width="1" height="23" fill="#000"/>
<rect x="355" y="142" width="5" height="13" fill="#000"/>
<rect x="356" y="143" width="3" height="11" fill="#fff"/>
<rect x="365" y="128" width="1" height="16" fill="#000"/>
<rect x="363" y="135" width="5" height="2" fill="#000"/>
<rect x="373" y="132" width="1" height="18" fill="#000"/>
<rect x="371" y="136" width="5" height="7" fill="#000"/>
<rect x="381" y="129" width="1" height="17" fill="#000"/>
<rect x="379" y="134" width="5" height="9" fill="#000"/>
<rect x="380" y="135" width="3" height="7" fill="#fff"/>
<rect x="389" y="126" width="1" height="14" fill="#000"/>
<rect x="387" y="127" width="5" height="13" fill="#000"/>
<rect x="397" y="129" width="1" height="9" fill="#000"/>
<rect x="395" y="131" width="5" height="3" fill="#000"/>
<rect x="405" y="109" width="1" height="14" fill="#000"/>
<rect x="403" y="110" width="5" height="12" fill="#000"/>
<rect x="404" y="111" width="3" height="10" fill="#fff"/>
<rect x="413" y="97" width="1" height="17" fill="#000"/>
<rect x="411" y="105" width="5" height="7" fill="#000"/>
<rect x="412" y="106" width="3" height="5" fill="#fff"/>
<rect x="421" y="105" width="1" height="14" fill="#000"/>
<rect x="419" y="111" width="5" height="2" fill="#000"/>
<rect x="429" y="91" width="1" height="27" fill="#000"/>
<rect x="427" y="92" width="5" height="16" fill="#000"/>
<rect x="428" y="93" width="3" height="14" fill="#fff"/>
<rect x="437" y="71" width="1" height="33" fill="#000"/>
<rect x="435" y="75" width="5" height="28" fill="#000"/>
<rect x="445" y="103" width="1" height="23" fill="#000"/>
<rect x="443" y="112" width="5" height="7" fill="#000"/>
<rect x="453" y="97" width="1" height="16" fill="#000"/>
<rect x="451" y="104" width="5" height="3" fill="#000"/>
<rect x="461" y="114" width="1" height="25" fill="#000"/>
<rect x="459" y="127" width="5" height="10" fill="#000"/>
<rect x="460" y="128" width="3" height="8" fill="#fff"/>
<rect x="469" y="91" width="1" height="17" fill="#000"/>
<rect x="467" y="92" width="5" height="12" fill="#000"/>
<rect x="468" y="93" width="3" height="10" fill="#fff"/>
<rect x="477" y="85" width="1" height="12" fill="#000"/>
<rect x="475" y="89" width="5" height="1" fill="#000"/>
<rect x="485" y="65" width="1" height="21" fill="#000"/>
<rect x="483" y="71" width="5" height="15" fill="#000"/>
<rect x="484" y="72" width="3" height="13" fill="#fff"/>
<rect x="493" y="54" width="1" height="27" fill="#000"/>
<rect x="491" y="55" width="5" height="26" fill="#000"/>
<rect x="501" y="67" width="1" height="23" fill="#000"/>
<rect x="499" y="71" width="5" height="13" fill="#000"/>
<rect x="509" y="66" width="1" height="19" fill="#000"/>
<rect x="507" y="75" width="5" height="3" fill="#000"/>
<rect x="508" y="76" width="3" height="1" fill="#fff"/>
<rect x="517" y="58" width="1" height="23" fill="#000"/>
<rect x="515" y="63" width="5" height="3" fill="#000"/>
<rect x="516" y="64" width="3" height="1" fill="#fff"/>
<rect x="525" y="55" width="1" height="33" fill="#000"/>
<rect x="523" y="58" width="5" height="30" fill="#000"/>
<rect x="533" y="92" width="1" height="48" fill="#000"/>
<rect x="531" y="94" width="5" height="43" fill="#000"/>
<rect x="541" y="106" width="1" height="29" fill="#000"/>
<rect x="539" y="111" width="5" height="15" fill="#000"/>
<rect x="540" y="112" width="3" height="13" fill="#fff"/>
<rect x="549" y="122" width="1" height="27" fill="#000"/>
<rect x="547" y="127" width="5" height="15" fill="#000"/>
<rect x="557" y="134" width="1" height="15" fill="#000"/>
<rect x="555" y="138" width="5" height="10" fill="#000"/>
<rect x="556" y="139" width="3" height="8" fill="#fff"/>
<rect x="565" y="174" width="1" height="22" fill="#000"/>
<rect x="563" y="188" width="5" height="5" fill="#000"/>
<rect x="564" y="189" width="3" height="3" fill="#fff"/>
<rect x="573" y="187" width="1" height="52" fill="#000"/>
<rect x="571" y="198" width="5" height="36" fill="#000"/>
<rect x="581" y="207" width="1" height="34" fill="#000"/>
<rect x="579" y="210" width="5" height="30" fill="#000"/>
<rect x="589" y="226" width="1" height="31" fill="#000"/>
<rect x="587" y="242" width="5" height="1" fill="#000"/>
<rect x="597" y="206" width="1" height="30" fill="#000"/>
<rect x="595" y="206" width="5" height="27" fill="#000"/>
<rect x="596" y="207" width="3" height="25" fill="#fff"/>
<rect x="605" y="202" width="1" height="20" fill="#000"/>
<rect x="603" y="205" width="5" height="5" fill="#000"/>
<rect x="613" y="157" width="1" height="41" fill="#000"/>
<rect x="611" y="168" width="5" height="25" fill="#000"/>
<rect x="612" y="169" width="3" height="23" fill="#fff"/>
<rect x="621" y="171" width="1" height="13" fill="#000"/>
<rect x="619" y="175" width="5" height="9" fill="#000"/>
<rect x="620" y="176" width="3" height="7" fill="#fff"/>
<rect x="629" y="177" width="1" height="22" fill="#000"/>
<rect x="627" y="186" width="5" height="13" fill="#000"/>
<rect x="628" y="187" width="3" height="11" fill="#fff"/>
<rect x="637" y="154" width="1" height="22" fill="#000"/>
<rect x="635" y="157" width="5" height="19" fill="#000"/>
<rect x="636" y="158" width="3" height="17" fill="#fff"/>
<rect x="645" y="141" width="1" height="19" fill="#000"/>
<rect x="643" y="144" width="5" height="9" fill="#000"/>
<rect x="644" y="145" width="3" height="7" fill="#fff"/>
<rect x="653" y="140" width="1" height="16" fill="#000"/>
<rect x="651" y="142" width="5" height="10" fill="#000"/>
<rect x="661" y="136" width="1" height="19" fill="#000"/>
<rect x="659" y="145" width="5" height="5" fill="#000"/>
<rect x="660" y="146" width="3" height="3" fill="#fff"/>
<rect x="669" y="129" width="1" height="24" fill="#000"/>
<rect x="667" y="139" width="5" height="12" fill="#000"/>
<rect x="668" y="140" width="3" height="10" fill="#fff"/>
<rect x="677" y="148" width="1" height="19" fill="#000"/>
<rect x="675" y="148" width="5" height="19" fill="#000"/>
<rect x="685" y="152" width="1" height="17" fill="#000"/>
<rect x="683" y="156" width="5" height="8" fill="#000"/>
<rect x="684" y="157" width="3" height="6" fill="#fff"/>
<rect x="693" y="148" width="1" height="29" fill="#000"/>
<rect x="691" y="148" width="5" height="19" fill="#000"/>
<rect x="701" y="168" width="1" height="15" fill="#000"/>
<rect x="699" y="175" width="5" height="6" fill="#000"/>
<rect x="709" y="189" width="1" height="25" fill="#000"/>
<rect x="707" y="193" width="5" height="21" fill="#000"/>
<rect x="717" y="203" width="1" height="16" fill="#000"/>
<rect x="715" y="207" width="5" height="12" fill="#000"/>
<rect x="716" y="208" width="3" height="10" fill="#fff"/>
<rect x="725" y="213" width="1" height="26" fill="#000"/>
<rect x="723" y="219" width="5" height="20" fill="#000"/>
<rect x="724" y="220" width="3" height="18" fill="#fff"/>
<rect x="733" y="202" width="1" height="32" fill="#000"/>
<rect x="731" y="212" width="5" height="20" fill="#000"/>
<rect x="732" y="213" width="3" height="18" fill="#fff"/>
<rect x="741" y="236" width="1" height="21" fill="#000"/>
<rect x="739" y="244" width="5" height="1" fill="#000"/>
<rect x="749" y="232" width="1" height="25" fill="#000"/>
<rect x="747" y="237" width="5" height="20" fill="#000"/>
<rect x="748" y="238" width="3" height="18" fill="#fff"/>
<rect x="757" y="222" width="1" height="23" fill="#000"/>
<rect x="755" y="222" width="5" height="14" fill="#000"/>
<rect x="765" y="232" width="1" height="25" fill="#000"/>
<rect x="763" y="239" width="5" height="7" fill="#000"/>
<rect x="773" y="206" width="1" height="34" fill="#000"/>
<rect x="771" y="211" width="5" height="26" fill="#000"/>
<rect x="772" y="212" width="3" height="24" fill="#fff"/>
<rect x="781" y="229" width="1" height="28" fill="#000"/>
<rect x="779" y="232" width="5" height="25" fill="#000"/>
<rect x="789" y="299" width="1" height="30" fill="#000"/>
<rect x="787" y="308" width="5" height="19" fill="#000"/>
<rect x="797" y="281" width="1" height="40" fill="#000"/>
<rect x="795" y="289" width="5" height="19" fill="#000"/>
<rect x="796" y="290" width="3" height="17" fill="#fff"/>
<rect x="805" y="287" width="1" height="25" fill="#000"/>
<rect x="803" y="289" width="5" height="20" fill="#000"/>
<rect x="813" y="336" width="1" height="43" fill="#000"/>
<rect x="811" y="337" width="5" height="38" fill="#000"/>
<rect x="821" y="368" width="1" height="128" fill="#000"/>
<rect x="819" y="386" width="5" height="85" fill="#000"/>
<rect x="820" y="387" width="3" height="83" fill="#fff"/>
<rect x="829" y="407" width="1" height="54" fill="#000"/>
<rect x="827" y="437" width="5" height="22" fill="#000"/>
<rect x="837" y="416" width="1" height="52" fill="#000"/>
<rect x="835" y="440" width="5" height="14" fill="#000"/>
<rect x="836" y="441" width="3" height="12" fill="#fff"/>
<rect x="845" y="417" width="1" height="86" fill="#000"/>
<rect x="843" y="463" width="5" height="40" fill="#000"/>
<rect x="853" y="481" width="1" height="87" fill="#000"/>
<rect x="851" y="502" width="5" height="11" fill="#000"/>
<rect x="861" y="434" width="1" height="65" fill="#000"/>
<rect x="859" y="436" width="5" height="63" fill="#000"/>
<rect x="860" y="437" width="3" height="61" fill="#fff"/>
<rect x="869" y="499" width="1" height="48" fill="#000"/>
<rect x="867" y="535" width="5" height="12" fill="#000"/>
<rect x="868" y="536" width="3" height="10" fill="#fff"/>
<rect x="877" y="454" width="1" height="28" fill="#000"/>
<rect x="875" y="458" width="5" height="13" fill="#000"/>
<rect x="876" y="459" width="3" height="11" fill="#fff"/>
<rect x="885" y="401" width="1" height="39" fill="#000"/>
<rect x="883" y="403" width="5" height="23" fill="#000"/>
<rect x="884" y="404" width="3" height="21" fill="#fff"/>
<rect x="893" y="406" width="1" height="29" fill="#000"/>
<rect x="891" y="412" width="5" height="19" fill="#000"/>
<rect x="901" y="388" width="1" height="34" fill="#000"/>
<rect x="899" y="388" width="5" height="23" fill="#000"/>
<rect x="909" y="408" width="1" height="49" fill="#000"/>
<rect x="907" y="440" width="5" height="17" fill="#000"/>
<rect x="908" y="441" width="3" height="15" fill="#fff"/>
<rect x="917" y="394" width="1" height="34" fill="#000"/>
<rect x="915" y="397" width="5" height="12" fill="#000"/>
<rect x="916" y="398" width="3" height="10" fill="#fff"/>
<rect x="925" y="406" width="1" height="42" fill="#000"/>
<rect x="923" y="419" width="5" height="27" fill="#000"/>
<rect x="933" y="423" width="1" height="41" fill="#000"/>
<rect x="931" y="424" width="5" height="38" fill="#000"/>
<rect x="932" y="425" width="3" height="36" fill="#fff"/>
<rect x="941" y="425" width="1" height="16" fill="#000"/>
<rect x="939" y="428" width="5" height="10" fill="#000"/>
<rect x="940" y="429" width="3" height="8" fill="#fff"/>
<rect x="949" y="387" width="1" height="37" fill="#000"/>
<rect x="947" y="394" width="5" height="2" fill="#000"/>
<rect x="957" y="351" width="1" height="44" fill="#000"/>
<rect x="955" y="352" width="5" height="26" fill="#000"/>
<rect x="956" y="353" width="3" height="24" fill="#fff"/>
<rect x="965" y="365" width="1" height="29" fill="#000"/>
<rect x="963" y="375" width="5" height="19" fill="#000"/>
<rect x="973" y="357" width="1" height="21" fill="#000"/>
<rect x="971" y="365" width="5" height="1" fill="#000"/>
<rect x="981" y="341" width="1" height="23" fill="#000"/>
<rect x="979" y="353" width="5" height="9" fill="#000"/>
<rect x="980" y="354" width="3" height="7" fill="#fff"/>
<rect x="989" y="340" width="1" height="38" fill="#000"/>
<rect x="987" y="353" width="5" height="24" fill="#000"/>
<rect x="997" y="371" width="1" height="19" fill="#000"/>
<rect x="995" y="381" width="5" height="3" fill="#000"/>
<rect x="996" y="382" width="3" height="1" fill="#fff"/>
<rect x="1005" y="336" width="1" height="27" fill="#000"/>
<rect x="1003" y="347" width="5" height="10" fill="#000"/>
<rect x="1013" y="349" width="1" height="19" fill="#000"/>
<rect x="1011" y="360" width="5" height="1" fill="#000"/>
<rect x="1021" y="363" width="1" height="39" fill="#000"/>
<rect x="1019" y="369" width="5" height="27" fill="#000"/>
<rect x="1029" y="383" width="1" height="31" fill="#000"/>
<rect x="1027" y="387" width="5" height="24" fill="#000"/>
<rect x="1028" y="388" width="3" height="22" fill="#fff"/>
<rect x="1037" y="373" width="1" height="21" fill="#000"/>
<rect x="1035" y="379" width="5" height="5" fill="#000"/>
<rect x="1036" y="380" width="3" height="3" fill="#fff"/>
<rect x="1045" y="390" width="1" height="16" fill="#000"/>
<rect x="1043" y="395" width="5" height="2" fill="#000"/>
<rect x="1053" y="364" width="1" height="21" fill="#000"/>
<rect x="1051" y="367" width="5" height="18" fill="#000"/>
<rect x="1052" y="368" width="3" height="16" fill="#fff"/>
<rect x="1061" y="342" width="1" height="34" fill="#000"/>
<rect x="1059" y="342" width="5" height="17" fill="#000"/>
<rect x="1060" y="343" width="3" height="15" fill="#fff"/>
<rect x="1069" y="330" width="1" height="22" fill="#000"/>
<rect x="1067" y="341" width="5" height="7" fill="#000"/>
<rect x="1077" y="395" width="1" height="27" fill="#000"/>
<rect x="1075" y="398" width="5" height="20" fill="#000"/>
<rect x="1085" y="391" width="1" height="18" fill="#000"/>
<rect x="1083" y="393" width="5" height="11" fill="#000"/>
<rect x="1084" y="394" width="3" height="9" fill="#fff"/>
<rect x="1093" y="370" width="1" height="33" fill="#000"/>
<rect x="1091" y="376" width="5" height="26" fill="#000"/>
<rect x="1092" y="377" width="3" height="24" fill="#fff"/>
<rect x="1101" y="380" width="1" height="13" fill="#000"/>
<rect x="1099" y="384" width="5" height="4" fill="#000"/>
<rect x="1109" y="367" width="1" height="12" fill="#000"/>
<rect x="1107" y="371" width="5" height="3" fill="#000"/>
<rect x="1108" y="372" width="3" height="1" fill="#fff"/>
<rect x="1117" y="335" width="1" height="26" fill="#000"/>
<rect x="1115" y="349" width="5" height="9" fill="#000"/>
<rect x="1116" y="350" width="3" height="7" fill="#fff"/>
<rect x="1125" y="359" width="1" height="20" fill="#000"/>
<rect x="1123" y="364" width="5" height="6" fill="#000"/>
<rect x="1133" y="363" width="1" height="24" fill="#000"/>
<rect x="1131" y="374" width="5" height="9" fill="#000"/>
<rect x="1132" y="375" width="3" height="7" fill="#fff"/>
<rect x="1141" y="380" width="1" height="22" fill="#000"/>
<rect x="1139" y="382" width="5" height="17" fill="#000"/>
<rect x="1149" y="384" width="1" height="23" fill="#000"/>
<rect x="1147" y="392" width="5" height="8" fill="#000"/>
<rect x="1157" y="382" width="1" height="22" fill="#000"/>
<rect x="1155" y="383" width="5" height="21" fill="#000"/>
<rect x="1156" y="384" width="3" height="19" fill="#fff"/>
<rect x="1165" y="345" width="1" height="19" fill="#000"/>
<rect x="1163" y="357" width="5" height="3" fill="#000"/>
<rect x="1164" y="358" width="3" height="1" fill="#fff"/>
<rect x="1173" y="348" width="1" height="15" fill="#000"/>
<rect x="1171" y="351" width="5" height="8" fill="#000"/>
<rect x="1172" y="352" width="3" height="6" fill="#fff"/>
<rect x="1181" y="349" width="1" height="23" fill="#000"/>
<rect x="1179" y="355" width="5" height="16" fill="#000"/>
<rect x="1189" y="397" width="1" height="63" fill="#000"/>
<rect x="1187" y="397" width="5" height="63" fill="#000"/>
<rect x="1197" y="444" width="1" height="28" fill="#000"/>
<rect x="1195" y="449" width="5" height="5" fill="#000"/>
<rect x="1196" y="450" width="3" height="3" fill="#fff"/>
<rect x="1205" y="411" width="1" height="22" fill="#000"/>
<rect x="1203" y="419" width="5" height="14" fill="#000"/>
<rect x="1204" y="420" width="3" height="12" fill="#fff"/>
<rect x="1213" y="422" width="1" height="25" fill="#000"/>
<rect x="1211" y="428" width="5" height="14" fill="#000"/>
<rect x="1221" y="426" width="1" height="44" fill="#000"/>
<rect x="1219" y="444" width="5" height="4" fill="#000"/>
<rect x="1229" y="448" width="1" height="31" fill="#000"/>
<rect x="1227" y="455" width="5" height="9" fill="#000"/>
<rect x="1228" y="456" width="3" height="7" fill="#fff"/>
<rect x="1237" y="399" width="1" height="32" fill="#000"/>
<rect x="1235" y="414" width="5" height="17" fill="#000"/>
<rect x="1236" y="415" width="3" height="15" fill="#fff"/>
<rect x="1245" y="381" width="1" height="28" fill="#000"/>
<rect x="1243" y="382" width="5" height="20" fill="#000"/>
<rect x="1244" y="383" width="3" height="18" fill="#fff"/>
<rect x="1253" y="356" width="1" height="18" fill="#000"/>
<rect x="1251" y="356" width="5" height="9" fill="#000"/>
<rect x="1261" y="343" width="1" height="29" fill="#000"/>
<rect x="1259" y="345" width="5" height="16" fill="#000"/>
<rect x="1269" y="330" width="1" height="39" fill="#000"/>
<rect x="1267" y="335" width="5" height="29" fill="#000"/>
<rect x="1268" y="336" width="3" height="27" fill="#fff"/>
<rect x="1277" y="317" width="1" height="25" fill="#000"/>
<rect x="1275" y="320" width="5" height="13" fill="#000"/>
<rect x="1285" y="305" width="1" height="29" fill="#000"/>
<rect x="1283" y="325" width="5" height="6" fill="#000"/>
<rect x="1284" y="326" width="3" height="4" fill="#fff"/>
<rect x="1293" y="301" width="1" height="22" fill="#000"/>
<rect x="1291" y="315" width="5" height="2" fill="#000"/>
<rect x="1301" y="316" width="1" height="43" fill="#000"/>
<rect x="1299" y="322" width="5" height="35" fill="#000"/>
<rect x="1309" y="364" width="1" height="28" fill="#000"/>
<rect x="1307" y="365" width="5" height="21" fill="#000"/>
<rect x="1308" y="366" width="3" height="19" fill="#fff"/>
<rect x="1317" y="369" width="1" height="38" fill="#000"/>
<rect x="1315" y="385" width="5" height="13" fill="#000"/>
<rect x="1325" y="349" width="1" height="17" fill="#000"/>
<rect x="1323" y="356" width="5" height="1" fill="#000"/>
<rect x="1333" y="349" width="1" height="25" fill="#000"/>
<rect x="1331" y="353" width="5" height="7" fill="#000"/>
<rect x="1332" y="354" width="3" height="5" fill="#fff"/>
<rect x="1341" y="351" width="1" height="27" fill="#000"/>
<rect x="1339" y="357" width="5" height="5" fill="#000"/>
<rect x="1340" y="358" width="3" height="3" fill="#fff"/>
<rect x="1349" y="333" width="1" height="32" fill="#000"/>
<rect x="1347" y="340" width="5" height="20" fill="#000"/>
<rect x="1348" y="341" width="3" height="18" fill="#fff"/>
<rect x="1357" y="340" width="1" height="16" fill="#000"/>
<rect x="1355" y="350" width="5" height="6" fill="#000"/>
<rect x="1356" y="351" width="3" height="4" fill="#fff"/>
<rect x="1365" y="317" width="1" height="54" fill="#000"/>
<rect x="1363" y="319" width="5" height="19" fill="#000"/>
<rect x="1364" y="320" width="3" height="17" fill="#fff"/>
<rect x="1373" y="319" width="1" height="32" fill="#000"/>
<rect x="1371" y="323" width="5" height="24" fill="#000"/>
<rect x="1381" y="342" width="1" height="19" fill="#000"/>
<rect x="1379" y="357" width="5" height="4" fill="#000"/>
<rect x="1380" y="358" width="3" height="2" fill="#fff"/>
<rect x="1389" y="352" width="1" height="32" fill="#000"/>
<rect x="1387" y="362" width="5" height="14" fill="#000"/>
<rect x="1397" y="353" width="1" height="23" fill="#000"/>
<rect x="1395" y="356" width="5" height="8" fill="#000"/>
<rect x="1405" y="308" width="1" height="48" fill="#000"/>
<rect x="1403" y="309" width="5" height="42" fill="#000"/>
<rect x="1404" y="310" width="3" height="40" fill="#fff"/>
<rect x="1413" y="290" width="1" height="22" fill="#000"/>
<rect x="1411" y="298" width="5" height="14" fill="#000"/>
<rect x="1412" y="299" width="3" height="12" fill="#fff"/>
<rect x="1421" y="227" width="1" height="60" fill="#000"/>
<rect x="1419" y="233" width="5" height="53" fill="#000"/>
<rect x="1420" y="234" width="3" height="51" fill="#fff"/>
<rect x="1429" y="205" width="1" height="50" fill="#000"/>
<rect x="1427" y="215" width="5" height="40" fill="#000"/>
<rect x="1437" y="234" width="1" height="21" fill="#000"/>
<rect x="1435" y="247" width="5" height="5" fill="#000"/>
<rect x="1445" y="230" width="1" height="15" fill="#000"/>
<rect x="1443" y="237" width="5" height="3" fill="#000"/>
<rect x="1453" y="244" width="1" height="39" fill="#000"/>
<rect x="1451" y="253" width="5" height="21" fill="#000"/>
</g>
<rect x="214" y="254" width="601" height="8" fill="#00ff00"/>
<rect x="1406" y="255" width="64" height="10" fill="#00ff00"/>
<rect x="1683.5" y="207.5" width="4" height="4" fill="#fff" stroke="#ff0000" stroke-width="1"/>
<rect x="-2.5" y="207.5" width="4" height="4" fill="#fff" stroke="#ff0000" stroke-width="1"/>
<rect x="1683.5" y="226.5" width="4" height="4" fill="#fff" stroke="#ff0000" stroke-width="1"/>
<rect x="-2.5" y="226.5" width="4" height="4" fill="#fff" stroke="#ff0000" stroke-width="1"/>
<rect x="1683.5" y="321.5" width="4" height="4" fill="#fff" stroke="#0000ff" stroke-width="1"/>
<rect x="-2.5" y="321.5" width="4" height="4" fill="#fff" stroke="#0000ff" stroke-width="1"/>
<g stroke="#ff0000" fill="#ff0000" stroke-linecap="butt">
<line x1="1387.5" y1="379.5" x2="1430.3" y2="216" stroke-width="3.6"/>
<polygon points="1431.4,211.3 1424.2,220.8 1436,222" stroke="none"/>
<line x1="1431.5" y1="213" x2="1454" y2="271" stroke-width="3.2"/>
<polygon points="1456.3,276.6 1447,267.6 1457.4,265.2" stroke="none"/>
</g>
<line x1="1302" y1="258.5" x2="1310" y2="258.5" stroke="#ff0000" stroke-width="1"/>
<rect x="1309.5" y="256.5" width="3" height="4" fill="#fff" stroke="#ff0000"/>
<rect x="1312.5" y="246.5" width="73" height="24" fill="#fff" stroke="#ff0000" stroke-width="1"/>
<rect x="0" y="27" width="1689" height="1" fill="#000"/>
<rect x="1688" y="27" width="1" height="902" fill="#000"/>
<rect x="0" y="580" width="1689" height="1" fill="#000"/>
<rect x="0" y="582" width="1689" height="1" fill="#000"/>
<rect x="0" y="752" width="1689" height="1" fill="#000"/>
<rect x="0" y="754" width="1689" height="1" fill="#000"/>
<rect x="0" y="928" width="1689" height="1" fill="#000"/>
<rect x="0" y="581" width="1689" height="1" fill="#fff"/>
<rect x="0" y="753" width="1689" height="1" fill="#fff"/>
<polygon points="1461.300,28 1470.700,28 1466,33.200" fill="#c0c0c0"/>
<rect x="5" y="632" width="1" height="2" fill="#c0c0c0"/>
<rect x="13" y="631" width="1" height="3" fill="#c0c0c0"/>
<rect x="21" y="629" width="1" height="5" fill="#c0c0c0"/>
<rect x="29" y="626" width="1" height="8" fill="#c0c0c0"/>
<rect x="37" y="626" width="1" height="8" fill="#c0c0c0"/>
<rect x="45" y="626" width="1" height="8" fill="#c0c0c0"/>
<rect x="53" y="625" width="1" height="9" fill="#c0c0c0"/>
<rect x="61" y="624" width="1" height="10" fill="#c0c0c0"/>
<rect x="69" y="622" width="1" height="12" fill="#c0c0c0"/>
<rect x="77" y="622" width="1" height="12" fill="#c0c0c0"/>
<rect x="85" y="623" width="1" height="11" fill="#c0c0c0"/>
<rect x="93" y="622" width="1" height="12" fill="#c0c0c0"/>
<rect x="101" y="620" width="1" height="14" fill="#c0c0c0"/>
<rect x="109" y="616" width="1" height="18" fill="#c0c0c0"/>
<rect x="117" y="611" width="1" height="23" fill="#c0c0c0"/>
<rect x="125" y="609" width="1" height="25" fill="#c0c0c0"/>
<rect x="133" y="605" width="1" height="29" fill="#c0c0c0"/>
<rect x="141" y="604" width="1" height="30" fill="#c0c0c0"/>
<rect x="149" y="609" width="1" height="25" fill="#c0c0c0"/>
<rect x="157" y="612" width="1" height="22" fill="#c0c0c0"/>
<rect x="165" y="619" width="1" height="15" fill="#c0c0c0"/>
<rect x="173" y="624" width="1" height="10" fill="#c0c0c0"/>
<rect x="181" y="631" width="1" height="3" fill="#c0c0c0"/>
<rect x="189" y="632" width="1" height="2" fill="#c0c0c0"/>
<rect x="197" y="631" width="1" height="3" fill="#c0c0c0"/>
<rect x="205" y="632" width="1" height="2" fill="#c0c0c0"/>
<rect x="213" y="632" width="1" height="2" fill="#c0c0c0"/>
<rect x="221" y="633" width="1" height="2" fill="#c0c0c0"/>
<rect x="229" y="633" width="1" height="1" fill="#c0c0c0"/>
<rect x="237" y="632" width="1" height="2" fill="#c0c0c0"/>
<rect x="245" y="632" width="1" height="2" fill="#c0c0c0"/>
<rect x="253" y="632" width="1" height="2" fill="#c0c0c0"/>
<rect x="261" y="633" width="1" height="2" fill="#c0c0c0"/>
<rect x="269" y="633" width="1" height="4" fill="#c0c0c0"/>
<rect x="277" y="633" width="1" height="6" fill="#c0c0c0"/>
<rect x="285" y="633" width="1" height="9" fill="#c0c0c0"/>
<rect x="293" y="633" width="1" height="11" fill="#c0c0c0"/>
<rect x="301" y="633" width="1" height="10" fill="#c0c0c0"/>
<rect x="309" y="633" width="1" height="10" fill="#c0c0c0"/>
<rect x="317" y="633" width="1" height="10" fill="#c0c0c0"/>
<rect x="325" y="633" width="1" height="9" fill="#c0c0c0"/>
<rect x="333" y="633" width="1" height="6" fill="#c0c0c0"/>
<rect x="341" y="631" width="1" height="3" fill="#c0c0c0"/>
<rect x="349" y="626" width="1" height="8" fill="#c0c0c0"/>
<rect x="357" y="620" width="1" height="14" fill="#c0c0c0"/>
<rect x="365" y="614" width="1" height="20" fill="#c0c0c0"/>
<rect x="373" y="613" width="1" height="21" fill="#c0c0c0"/>
<rect x="381" y="610" width="1" height="24" fill="#c0c0c0"/>
<rect x="389" y="608" width="1" height="26" fill="#c0c0c0"/>
<rect x="397" y="606" width="1" height="28" fill="#c0c0c0"/>
<rect x="405" y="604" width="1" height="30" fill="#c0c0c0"/>
<rect x="413" y="601" width="1" height="33" fill="#c0c0c0"/>
<rect x="421" y="600" width="1" height="34" fill="#c0c0c0"/>
<rect x="429" y="596" width="1" height="38" fill="#c0c0c0"/>
<rect x="437" y="597" width="1" height="37" fill="#c0c0c0"/>
<rect x="445" y="599" width="1" height="35" fill="#c0c0c0"/>
<rect x="453" y="600" width="1" height="34" fill="#c0c0c0"/>
<rect x="461" y="602" width="1" height="32" fill="#c0c0c0"/>
<rect x="469" y="601" width="1" height="33" fill="#c0c0c0"/>
<rect x="477" y="600" width="1" height="34" fill="#c0c0c0"/>
<rect x="485" y="598" width="1" height="36" fill="#c0c0c0"/>
<rect x="493" y="598" width="1" height="36" fill="#c0c0c0"/>
<rect x="501" y="598" width="1" height="36" fill="#c0c0c0"/>
<rect x="509" y="598" width="1" height="36" fill="#c0c0c0"/>
<rect x="517" y="598" width="1" height="36" fill="#c0c0c0"/>
<rect x="525" y="600" width="1" height="34" fill="#c0c0c0"/>
<rect x="533" y="607" width="1" height="27" fill="#c0c0c0"/>
<rect x="541" y="611" width="1" height="23" fill="#c0c0c0"/>
<rect x="549" y="617" width="1" height="17" fill="#c0c0c0"/>
<rect x="557" y="622" width="1" height="12" fill="#c0c0c0"/>
<rect x="565" y="631" width="1" height="3" fill="#c0c0c0"/>
<rect x="573" y="633" width="1" height="10" fill="#c0c0c0"/>
<rect x="581" y="633" width="1" height="20" fill="#c0c0c0"/>
<rect x="589" y="633" width="1" height="28" fill="#c0c0c0"/>
<rect x="597" y="633" width="1" height="30" fill="#c0c0c0"/>
<rect x="605" y="633" width="1" height="32" fill="#c0c0c0"/>
<rect x="613" y="633" width="1" height="28" fill="#c0c0c0"/>
<rect x="621" y="633" width="1" height="26" fill="#c0c0c0"/>
<rect x="629" y="633" width="1" height="24" fill="#c0c0c0"/>
<rect x="637" y="633" width="1" height="20" fill="#c0c0c0"/>
<rect x="645" y="633" width="1" height="16" fill="#c0c0c0"/>
<rect x="653" y="633" width="1" height="13" fill="#c0c0c0"/>
<rect x="661" y="633" width="1" height="10" fill="#c0c0c0"/>
<rect x="669" y="633" width="1" height="6" fill="#c0c0c0"/>
<rect x="677" y="633" width="1" height="7" fill="#c0c0c0"/>
<rect x="685" y="633" width="1" height="6" fill="#c0c0c0"/>
<rect x="693" y="633" width="1" height="6" fill="#c0c0c0"/>
<rect x="701" y="633" width="1" height="8" fill="#c0c0c0"/>
<rect x="709" y="633" width="1" height="12" fill="#c0c0c0"/>
<rect x="717" y="633" width="1" height="15" fill="#c0c0c0"/>
<rect x="725" y="633" width="1" height="19" fill="#c0c0c0"/>
<rect x="733" y="633" width="1" height="21" fill="#c0c0c0"/>
<rect x="741" y="633" width="1" height="25" fill="#c0c0c0"/>
<rect x="749" y="633" width="1" height="28" fill="#c0c0c0"/>
<rect x="757" y="633" width="1" height="29" fill="#c0c0c0"/>
<rect x="765" y="633" width="1" height="30" fill="#c0c0c0"/>
<rect x="773" y="633" width="1" height="29" fill="#c0c0c0"/>
<rect x="781" y="633" width="1" height="30" fill="#c0c0c0"/>
<rect x="789" y="633" width="1" height="40" fill="#c0c0c0"/>
<rect x="797" y="633" width="1" height="43" fill="#c0c0c0"/>
<rect x="805" y="633" width="1" height="47" fill="#c0c0c0"/>
<rect x="813" y="633" width="1" height="56" fill="#c0c0c0"/>
<rect x="821" y="633" width="1" height="64" fill="#c0c0c0"/>
<rect x="829" y="633" width="1" height="78" fill="#c0c0c0"/>
<rect x="837" y="633" width="1" height="85" fill="#c0c0c0"/>
<rect x="845" y="633" width="1" height="97" fill="#c0c0c0"/>
<rect x="853" y="633" width="1" height="106" fill="#c0c0c0"/>
<rect x="861" y="633" width="1" height="104" fill="#c0c0c0"/>
<rect x="869" y="633" width="1" height="112" fill="#c0c0c0"/>
<rect x="877" y="633" width="1" height="108" fill="#c0c0c0"/>
<rect x="885" y="633" width="1" height="99" fill="#c0c0c0"/>
<rect x="893" y="633" width="1" height="93" fill="#c0c0c0"/>
<rect x="901" y="633" width="1" height="85" fill="#c0c0c0"/>
<rect x="909" y="633" width="1" height="81" fill="#c0c0c0"/>
<rect x="917" y="633" width="1" height="72" fill="#c0c0c0"/>
<rect x="925" y="633" width="1" height="70" fill="#c0c0c0"/>
<rect x="933" y="633" width="1" height="65" fill="#c0c0c0"/>
<rect x="941" y="633" width="1" height="61" fill="#c0c0c0"/>
<rect x="949" y="633" width="1" height="54" fill="#c0c0c0"/>
<rect x="957" y="633" width="1" height="43" fill="#c0c0c0"/>
<rect x="965" y="633" width="1" height="38" fill="#c0c0c0"/>
<rect x="973" y="633" width="1" height="30" fill="#c0c0c0"/>
<rect x="981" y="633" width="1" height="24" fill="#c0c0c0"/>
<rect x="989" y="633" width="1" height="20" fill="#c0c0c0"/>
<rect x="997" y="633" width="1" height="18" fill="#c0c0c0"/>
<rect x="1005" y="633" width="1" height="12" fill="#c0c0c0"/>
<rect x="1013" y="633" width="1" height="10" fill="#c0c0c0"/>
<rect x="1021" y="633" width="1" height="10" fill="#c0c0c0"/>
<rect x="1029" y="633" width="1" height="10" fill="#c0c0c0"/>
<rect x="1037" y="633" width="1" height="9" fill="#c0c0c0"/>
<rect x="1045" y="633" width="1" height="10" fill="#c0c0c0"/>
<rect x="1053" y="633" width="1" height="8" fill="#c0c0c0"/>
<rect x="1061" y="633" width="1" height="2" fill="#c0c0c0"/>
<rect x="1069" y="633" width="1" height="2" fill="#c0c0c0"/>
<rect x="1077" y="633" width="1" height="5" fill="#c0c0c0"/>
<rect x="1085" y="633" width="1" height="6" fill="#c0c0c0"/>
<rect x="1093" y="633" width="1" height="5" fill="#c0c0c0"/>
<rect x="1101" y="633" width="1" height="5" fill="#c0c0c0"/>
<rect x="1109" y="633" width="1" height="4" fill="#c0c0c0"/>
<rect x="1117" y="633" width="1" height="2" fill="#c0c0c0"/>
<rect x="1125" y="633" width="1" height="1" fill="#c0c0c0"/>
<rect x="1133" y="633" width="1" height="1" fill="#c0c0c0"/>
<rect x="1141" y="633" width="1" height="2" fill="#c0c0c0"/>
<rect x="1149" y="633" width="1" height="4" fill="#c0c0c0"/>
<rect x="1157" y="633" width="1" height="4" fill="#c0c0c0"/>
<rect x="1165" y="633" width="1" height="2" fill="#c0c0c0"/>
<rect x="1173" y="632" width="1" height="2" fill="#c0c0c0"/>
<rect x="1181" y="632" width="1" height="2" fill="#c0c0c0"/>
<rect x="1189" y="633" width="1" height="9" fill="#c0c0c0"/>
<rect x="1197" y="633" width="1" height="15" fill="#c0c0c0"/>
<rect x="1205" y="633" width="1" height="16" fill="#c0c0c0"/>
<rect x="1213" y="633" width="1" height="19" fill="#c0c0c0"/>
<rect x="1221" y="633" width="1" height="23" fill="#c0c0c0"/>
<rect x="1229" y="633" width="1" height="26" fill="#c0c0c0"/>
<rect x="1237" y="633" width="1" height="23" fill="#c0c0c0"/>
<rect x="1245" y="633" width="1" height="17" fill="#c0c0c0"/>
<rect x="1253" y="633" width="1" height="11" fill="#c0c0c0"/>
<rect x="1261" y="633" width="1" height="6" fill="#c0c0c0"/>
<rect x="1269" y="632" width="1" height="2" fill="#c0c0c0"/>
<rect x="1277" y="626" width="1" height="8" fill="#c0c0c0"/>
<rect x="1285" y="621" width="1" height="13" fill="#c0c0c0"/>
<rect x="1293" y="616" width="1" height="18" fill="#c0c0c0"/>
<rect x="1301" y="616" width="1" height="18" fill="#c0c0c0"/>
<rect x="1309" y="618" width="1" height="16" fill="#c0c0c0"/>
<rect x="1317" y="622" width="1" height="12" fill="#c0c0c0"/>
<rect x="1325" y="622" width="1" height="12" fill="#c0c0c0"/>
<rect x="1333" y="621" width="1" height="13" fill="#c0c0c0"/>
<rect x="1341" y="621" width="1" height="13" fill="#c0c0c0"/>
<rect x="1349" y="620" width="1" height="14" fill="#c0c0c0"/>
<rect x="1357" y="619" width="1" height="15" fill="#c0c0c0"/>
<rect x="1365" y="618" width="1" height="16" fill="#c0c0c0"/>
<rect x="1373" y="618" width="1" height="16" fill="#c0c0c0"/>
<rect x="1381" y="620" width="1" height="14" fill="#c0c0c0"/>
<rect x="1389" y="624" width="1" height="10" fill="#c0c0c0"/>
<rect x="1397" y="624" width="1" height="10" fill="#c0c0c0"/>
<rect x="1405" y="621" width="1" height="13" fill="#c0c0c0"/>
<rect x="1413" y="616" width="1" height="18" fill="#c0c0c0"/>
<rect x="1421" y="605" width="1" height="29" fill="#c0c0c0"/>
<rect x="1429" y="601" width="1" height="33" fill="#c0c0c0"/>
<rect x="1437" y="596" width="1" height="38" fill="#c0c0c0"/>
<rect x="1445" y="591" width="1" height="43" fill="#c0c0c0"/>
<rect x="1453" y="592" width="1" height="42" fill="#c0c0c0"/>
<polyline points="-2.5,645.0 5.5,644.2 13.5,642.2 21.5,640.5 29.5,638.2 37.5,635.5 45.5,633.0 53.5,631.0 61.5,629.2 69.5,627.3 77.5,626.3 85.5,625.4 93.5,624.7 101.5,623.9 109.5,622.8 117.5,621.2 125.5,619.4 133.5,617.2 141.5,615.2 149.5,613.7 157.5,612.5 165.5,612.1 173.5,612.7 181.5,614.3 189.5,616.6 197.5,619.0 205.5,621.9 213.5,625.1 221.5,627.9 229.5,630.2 237.5,631.8 245.5,632.5 253.5,632.7 261.5,633.0 269.5,633.6 277.5,634.3 285.5,635.3 293.5,636.3 301.5,637.3 309.5,638.3 317.5,639.6 325.5,640.5 333.5,640.9 341.5,640.3 349.5,638.9 357.5,636.5 365.5,633.3 373.5,630.1 381.5,626.5 389.5,622.6 397.5,618.8 405.5,615.1 413.5,611.7 421.5,608.9 429.5,606.3 437.5,604.4 445.5,602.8 453.5,601.7 461.5,601.1 469.5,600.4 477.5,600.0 485.5,599.7 493.5,599.5 501.5,599.7 509.5,599.8 517.5,599.7 525.5,599.7 533.5,600.2 541.5,601.4 549.5,603.4 557.5,606.0 565.5,609.7 573.5,614.5 581.5,620.5 589.5,627.4 597.5,634.2 605.5,640.6 613.5,646.0 621.5,650.5 629.5,654.3 637.5,656.6 645.5,657.3 653.5,656.6 661.5,654.6 669.5,651.9 677.5,649.1 685.5,646.7 693.5,644.5 701.5,642.7 709.5,641.8 717.5,641.6 725.5,642.2 733.5,643.5 741.5,645.6 749.5,648.0 757.5,650.5 765.5,653.2 773.5,655.5 781.5,657.6 789.5,660.4 797.5,663.1 805.5,666.0 813.5,669.4 821.5,673.4 829.5,678.9 837.5,684.9 845.5,692.5 853.5,700.9 861.5,707.9 869.5,715.6 877.5,722.3 885.5,727.1 893.5,730.3 901.5,731.1 909.5,730.7 917.5,727.9 925.5,723.9 933.5,719.5 941.5,713.9 949.5,707.9 957.5,701.7 965.5,695.6 973.5,689.5 981.5,683.1 989.5,677.3 997.5,671.5 1005.5,665.7 1013.5,660.0 1021.5,655.2 1029.5,651.6 1037.5,648.4 1045.5,646.1 1053.5,644.4 1061.5,642.5 1069.5,640.7 1077.5,639.9 1085.5,639.4 1093.5,638.8 1101.5,638.2 1109.5,637.7 1117.5,636.9 1125.5,636.1 1133.5,636.0 1141.5,636.1 1149.5,636.0 1157.5,635.8 1165.5,635.6 1173.5,635.1 1181.5,634.6 1189.5,635.3 1197.5,636.8 1205.5,638.5 1213.5,640.3 1221.5,642.4 1229.5,644.8 1237.5,647.1 1245.5,648.9 1253.5,650.1 1261.5,649.8 1269.5,648.2 1277.5,645.7 1285.5,642.4 1293.5,638.0 1301.5,633.3 1309.5,629.1 1317.5,626.2 1325.5,623.9 1333.5,622.0 1341.5,620.7 1349.5,620.0 1357.5,619.8 1365.5,620.0 1373.5,620.2 1381.5,620.4 1389.5,620.6 1397.5,620.8 1405.5,620.8 1413.5,620.2 1421.5,618.7 1429.5,616.6 1437.5,614.2 1445.5,611.3 1453.5,608.3" fill="none" stroke="#ff0000" stroke-width="1" stroke-dasharray="2.6 2.4" shape-rendering="crispEdges"/>
<line x1="0" y1="790.5" x2="1688" y2="790.5" stroke="#c0c0c0" stroke-width="1" stroke-dasharray="3 3" shape-rendering="crispEdges"/>
<line x1="0" y1="841.5" x2="1688" y2="841.5" stroke="#c0c0c0" stroke-width="1" stroke-dasharray="3 3" shape-rendering="crispEdges"/>
<line x1="0" y1="902.5" x2="1688" y2="902.5" stroke="#c0c0c0" stroke-width="1" stroke-dasharray="3 3" shape-rendering="crispEdges"/>
<polyline points="0,832 5.5,830.2 13.5,822.7 21.5,831.0 29.5,829.7 37.5,827.2 45.5,837.7 53.5,830.5 61.5,832.7 69.5,826.5 77.5,832.7 85.5,837.7 93.5,826.5 101.5,821.5 109.5,811.5 117.5,809.7 125.5,808.5 133.5,806.0 141.5,813.5 149.5,839.2 157.5,840.5 165.5,854.2 173.5,858.5 181.5,861.0 189.5,845.5 197.5,835.5 205.5,842.2 213.5,851.7 221.5,846.7 229.5,836.5 237.5,837.7 245.5,836.5 253.5,840.2 261.5,854.7 269.5,850.5 277.5,852.2 285.5,861.0 293.5,854.7 301.5,846.7 309.5,846.5 317.5,849.0 325.5,841.7 333.5,831.7 341.5,816.5 349.5,820.5 357.5,815.5 365.5,814.2 373.5,819.0 381.5,815.5 389.5,819.0 397.5,816.7 405.5,809.0 413.5,807.2 421.5,812.7 429.5,806.5 437.5,813.5 445.5,823.5 453.5,819.2 461.5,830.5 469.5,818.5 477.5,817.7 485.5,811.5 493.5,817.7 501.5,819.7 509.5,816.0 517.5,812.2 525.5,826.7 533.5,848.5 541.5,839.7 549.5,849.7 557.5,848.5 565.5,863.0 573.5,873.5 581.5,874.7 589.5,875.5 597.5,859.7 605.5,860.5 613.5,845.5 621.5,847.2 629.5,851.5 637.5,840.5 645.5,836.5 653.5,839.7 661.5,837.7 669.5,835.2 677.5,845.5 685.5,841.5 693.5,845.5 701.5,850.5 709.5,861.7 717.5,858.5 725.5,862.2 733.5,858.5 741.5,868.5 749.5,864.7 757.5,863.5 765.5,866.7 773.5,849.7 781.5,864.0 789.5,879.0 797.5,864.7 805.5,868.5 813.5,879.2 821.5,880.5 829.5,889.7 837.5,883.5 845.5,889.2 853.5,890.5 861.5,867.7 869.5,879.7 877.5,862.2 885.5,852.7 893.5,855.5 901.5,852.7 909.5,856.5 917.5,848.5 925.5,855.2 933.5,851.5 941.5,852.7 949.5,846.0 957.5,837.7 965.5,845.2 973.5,840.5 981.5,837.7 989.5,842.2 997.5,843.5 1005.5,838.5 1013.5,839.7 1021.5,846.5 1029.5,844.2 1037.5,843.5 1045.5,847.2 1053.5,838.5 1061.5,833.5 1069.5,835.2 1077.5,852.2 1085.5,846.0 1093.5,841.5 1101.5,844.2 1109.5,840.5 1117.5,834.7 1125.5,840.2 1133.5,841.5 1141.5,848.5 1149.5,848.5 1157.5,844.0 1165.5,836.5 1173.5,834.7 1181.5,840.2 1189.5,862.7 1197.5,859.7 1205.5,850.5 1213.5,855.2 1221.5,856.7 1229.5,858.5 1237.5,846.0 1245.5,837.2 1253.5,832.7 1261.5,831.5 1269.5,826.0 1277.5,825.5 1285.5,823.5 1293.5,820.2 1301.5,835.5 1309.5,839.0 1317.5,848.5 1325.5,836.7 1333.5,835.5 1341.5,836.7 1349.5,831.7 1357.5,835.5 1365.5,826.7 1373.5,836.5 1381.5,840.5 1389.5,845.5 1397.5,841.0 1405.5,825.5 1413.5,823.5 1421.5,810.5 1429.5,819.0 1437.5,817.7 1445.5,815.5 1453.5,826.5" fill="none" stroke="#1e90ff" stroke-width="1" shape-rendering="crispEdges"/>
<rect x="1689" y="49" width="3" height="1" fill="#000"/>
<rect x="1689" y="82" width="3" height="1" fill="#000"/>
<rect x="1689" y="115" width="3" height="1" fill="#000"/>
<rect x="1689" y="148" width="3" height="1" fill="#000"/>
<rect x="1689" y="181" width="3" height="1" fill="#000"/>
<rect x="1689" y="214" width="3" height="1" fill="#000"/>
<rect x="1689" y="247" width="3" height="1" fill="#000"/>
<rect x="1689" y="280" width="3" height="1" fill="#000"/>
<rect x="1689" y="313" width="3" height="1" fill="#000"/>
<rect x="1689" y="346" width="3" height="1" fill="#000"/>
<rect x="1689" y="379" width="3" height="1" fill="#000"/>
<rect x="1689" y="412" width="3" height="1" fill="#000"/>
<rect x="1689" y="445" width="3" height="1" fill="#000"/>
<rect x="1689" y="478" width="3" height="1" fill="#000"/>
<rect x="1689" y="511" width="3" height="1" fill="#000"/>
<rect x="1689" y="544" width="3" height="1" fill="#000"/>
<rect x="1689" y="577" width="3" height="1" fill="#000"/>
<rect x="1689" y="583" width="2" height="1" fill="#000"/>
<rect x="1689" y="633" width="2" height="1" fill="#000"/>
<rect x="1689" y="751" width="2" height="1" fill="#000"/>
<rect x="1689" y="755" width="2" height="1" fill="#000"/>
<rect x="61" y="929" width="1" height="3" fill="#000"/>
<rect x="125" y="929" width="1" height="3" fill="#000"/>
<rect x="189" y="929" width="1" height="3" fill="#000"/>
<rect x="253" y="929" width="1" height="3" fill="#000"/>
<rect x="317" y="929" width="1" height="3" fill="#000"/>
<rect x="381" y="929" width="1" height="3" fill="#000"/>
<rect x="445" y="929" width="1" height="3" fill="#000"/>
<rect x="509" y="929" width="1" height="3" fill="#000"/>
<rect x="573" y="929" width="1" height="3" fill="#000"/>
<rect x="637" y="929" width="1" height="3" fill="#000"/>
<rect x="701" y="929" width="1" height="3" fill="#000"/>
<rect x="765" y="929" width="1" height="3" fill="#000"/>
<rect x="829" y="929" width="1" height="3" fill="#000"/>
<rect x="893" y="929" width="1" height="3" fill="#000"/>
<rect x="957" y="929" width="1" height="3" fill="#000"/>
<rect x="1021" y="929" width="1" height="3" fill="#000"/>
<rect x="1085" y="929" width="1" height="3" fill="#000"/>
<rect x="1149" y="929" width="1" height="3" fill="#000"/>
<rect x="1213" y="929" width="1" height="3" fill="#000"/>
<rect x="1277" y="929" width="1" height="3" fill="#000"/>
<rect x="1341" y="929" width="1" height="3" fill="#000"/>
<rect x="1405" y="929" width="1" height="3" fill="#000"/>
<polygon points="0,38.200 3.500,33.600 7,38.200" fill="#000"/>
<text x="1694" y="52.6" font-size="9.5" fill="#000" letter-spacing="-0.2">29298.0</text>
<text x="1694" y="85.6" font-size="9.5" fill="#000" letter-spacing="-0.2">28770.0</text>
<text x="1694" y="118.6" font-size="9.5" fill="#000" letter-spacing="-0.2">28242.0</text>
<text x="1694" y="151.6" font-size="9.5" fill="#000" letter-spacing="-0.2">27698.0</text>
<text x="1694" y="184.6" font-size="9.5" fill="#000" letter-spacing="-0.2">27170.0</text>
<text x="1694" y="217.6" font-size="9.5" fill="#000" letter-spacing="-0.2">26642.0</text>
<text x="1694" y="250.6" font-size="9.5" fill="#000" letter-spacing="-0.2">26114.0</text>
<text x="1694" y="283.6" font-size="9.5" fill="#000" letter-spacing="-0.2">25570.0</text>
<text x="1694" y="316.6" font-size="9.5" fill="#000" letter-spacing="-0.2">25042.0</text>
<text x="1694" y="349.6" font-size="9.5" fill="#000" letter-spacing="-0.2">24514.0</text>
<text x="1694" y="382.6" font-size="9.5" fill="#000" letter-spacing="-0.2">23986.0</text>
<text x="1694" y="415.6" font-size="9.5" fill="#000" letter-spacing="-0.2">23458.0</text>
<text x="1694" y="448.6" font-size="9.5" fill="#000" letter-spacing="-0.2">22914.0</text>
<text x="1694" y="481.6" font-size="9.5" fill="#000" letter-spacing="-0.2">22386.0</text>
<text x="1694" y="514.6" font-size="9.5" fill="#000" letter-spacing="-0.2">21858.0</text>
<text x="1694" y="547.6" font-size="9.5" fill="#000" letter-spacing="-0.2">21330.0</text>
<text x="1694" y="580.6" font-size="9.5" fill="#000" letter-spacing="-0.2">20802.0</text>
<text x="1692" y="592.6" font-size="9.5" fill="#000" letter-spacing="-0.2">596.11</text>
<text x="1692" y="636.6" font-size="9.5" fill="#000" letter-spacing="-0.2">0.00</text>
<text x="1692" y="748.6" font-size="9.5" fill="#000" letter-spacing="-0.2">-1415.19</text>
<text x="1692" y="764.6" font-size="9.5" fill="#000" letter-spacing="-0.2">100</text>
<text x="1692" y="793.6" font-size="9.5" fill="#000" letter-spacing="-0.2">80</text>
<text x="1692" y="844.6" font-size="9.5" fill="#000" letter-spacing="-0.2">50</text>
<text x="1692" y="905.6" font-size="9.5" fill="#000" letter-spacing="-0.2">15</text>
<text x="1692" y="924.6" font-size="9.5" fill="#000" letter-spacing="-0.2">0</text>
<rect x="1690" y="203" width="41" height="11" fill="#ff0000"/>
<text x="1694" y="212.2" font-size="9.5" fill="#fff" letter-spacing="-0.2">26718.2</text>
<rect x="1690" y="222" width="41" height="11" fill="#ff0000"/>
<text x="1694" y="231.2" font-size="9.5" fill="#fff" letter-spacing="-0.2">26412.8</text>
<rect x="1690" y="252" width="41" height="11" fill="#32cd32"/>
<text x="1694" y="261.2" font-size="9.5" fill="#fff" letter-spacing="-0.2">25930.5</text>
<rect x="1690" y="268" width="41" height="11" fill="#000000"/>
<text x="1694" y="277.2" font-size="9.5" fill="#fff" letter-spacing="-0.2">25684.0</text>
<rect x="1690" y="291" width="41" height="11" fill="#0000ff"/>
<text x="1694" y="300.2" font-size="9.5" fill="#fff" letter-spacing="-0.2">25303.5</text>
<rect x="1690" y="317" width="41" height="11" fill="#0000ff"/>
<text x="1694" y="326.2" font-size="9.5" fill="#fff" letter-spacing="-0.2">24885.6</text>
<text x="-3.8" y="941" font-size="9.4" fill="#000" letter-spacing="-0.07">15 Oct 2019</text>
<text x="60.2" y="941" font-size="9.4" fill="#000" letter-spacing="-0.07">25 Oct 2019</text>
<text x="124.2" y="941" font-size="9.4" fill="#000" letter-spacing="-0.07">6 Nov 2019</text>
<text x="188.2" y="941" font-size="9.4" fill="#000" letter-spacing="-0.07">18 Nov 2019</text>
<text x="252.2" y="941" font-size="9.4" fill="#000" letter-spacing="-0.07">28 Nov 2019</text>
<text x="316.2" y="941" font-size="9.4" fill="#000" letter-spacing="-0.07">10 Dec 2019</text>
<text x="380.2" y="941" font-size="9.4" fill="#000" letter-spacing="-0.07">20 Dec 2019</text>
<text x="444.2" y="941" font-size="9.4" fill="#000" letter-spacing="-0.07">6 Jan 2020</text>
<text x="508.2" y="941" font-size="9.4" fill="#000" letter-spacing="-0.07">16 Jan 2020</text>
<text x="572.2" y="941" font-size="9.4" fill="#000" letter-spacing="-0.07">30 Jan 2020</text>
<text x="636.2" y="941" font-size="9.4" fill="#000" letter-spacing="-0.07">11 Feb 2020</text>
<text x="700.2" y="941" font-size="9.4" fill="#000" letter-spacing="-0.07">21 Feb 2020</text>
<text x="764.2" y="941" font-size="9.4" fill="#000" letter-spacing="-0.07">4 Mar 2020</text>
<text x="828.2" y="941" font-size="9.4" fill="#000" letter-spacing="-0.07">16 Mar 2020</text>
<text x="892.2" y="941" font-size="9.4" fill="#000" letter-spacing="-0.07">26 Mar 2020</text>
<text x="956.2" y="941" font-size="9.4" fill="#000" letter-spacing="-0.07">7 Apr 2020</text>
<text x="1020.2" y="941" font-size="9.4" fill="#000" letter-spacing="-0.07">21 Apr 2020</text>
<text x="1084.2" y="941" font-size="9.4" fill="#000" letter-spacing="-0.07">5 May 2020</text>
<text x="1148.2" y="941" font-size="9.4" fill="#000" letter-spacing="-0.07">15 May 2020</text>
<text x="1212.2" y="941" font-size="9.4" fill="#000" letter-spacing="-0.07">27 May 2020</text>
<text x="1276.2" y="941" font-size="9.4" fill="#000" letter-spacing="-0.07">8 Jun 2020</text>
<text x="1340.2" y="941" font-size="9.4" fill="#000" letter-spacing="-0.07">18 Jun 2020</text>
<text x="1404.2" y="941" font-size="9.4" fill="#000" letter-spacing="-0.07">2 Jul 2020</text>
<text x="1" y="594.5" font-size="9.5" fill="#000" letter-spacing="-0.04">MACD(12,26,9) 494.29 312.50</text>
<text x="1" y="766.5" font-size="9.5" fill="#000" letter-spacing="-0.04">RSI(14) 58.5144</text>
<text x="12" y="38.7" font-size="9.9" fill="#000" letter-spacing="-0.260">HK50-,Daily&#160;&#160;26016.0 26162.0 25545.0 25684.0</text>
<text x="1313.700" y="266.700" font-size="21.800" fill="#ff0000" letter-spacing="-1.150">25930.5</text>
<text x="438.700" y="296.600" font-size="20.600" fill="#00ff00" style="font-family:'Liberation Serif','Noto Serif CJK SC',serif;font-weight:600" letter-spacing="1.800">支撑</text>
<text x="1516.200" y="264.700" font-size="20.300" fill="#00ff00" style="font-family:'Liberation Serif','Noto Serif CJK SC',serif;font-weight:600" letter-spacing="2.400">转折点</text>
</svg>
<div id="tp">
  <div class="tab" style="left:0;top:0;width:52px;height:24px;padding-right:1.600px;">SELL</div>
  <div class="tab" style="left:167px;top:0;width:52px;height:24px;">BUY</div>
  <div class="big" style="left:0;top:24px;width:109px;height:40px;"></div>
  <div class="big" style="left:111px;top:24px;width:108px;height:40px;"></div>
  <div style="left:4px;top:23px;width:44px;height:1px;background:#a81414;"></div>
  <div style="left:171px;top:23px;width:44px;height:1px;background:#a81414;"></div>
  <div style="left:4px;top:24px;width:44px;height:1px;background:#f4a0a0;"></div>
  <div style="left:171px;top:24px;width:44px;height:1px;background:#f4a0a0;"></div>
  <div style="left:54px;top:0;width:111px;height:22px;background:#fff;border:1px solid #a8aeb8;"></div>
  <div class="spin" style="left:55px;top:1px;width:21px;height:20px;border-right:1px solid #a8aeb8;"></div>
  <div class="spin" style="left:143px;top:1px;width:21px;height:20px;border-left:1px solid #a8aeb8;"></div>
  <div style="left:61.500px;top:9px;width:0;height:0;border-left:3.500px solid transparent;border-right:3.500px solid transparent;border-top:3.600px solid #5868c0;"></div>
  <div style="left:150px;top:8.400px;width:0;height:0;border-left:3.500px solid transparent;border-right:3.500px solid transparent;border-bottom:3.600px solid #5868c0;"></div>
  <div style="left:76px;top:3px;width:64px;height:16px;font-size:12px;line-height:16px;text-align:right;color:#000;">1.00</div>
  <div style="left:16px;top:43.900px;font-size:12.700px;font-weight:bold;color:#fff;line-height:14px;">25682</div>
  <div style="left:126.300px;top:43.900px;font-size:12.700px;font-weight:bold;color:#fff;line-height:14px;">25700</div>
  <div style="left:52.600px;top:28.600px;font-size:31px;color:#fff;line-height:30px;">.</div><div style="left:62.400px;top:23.600px;font-size:33.500px;color:#fff;line-height:38px;transform-origin:0 0;transform:scaleX(0.840);">5</div>
  <div style="left:163.300px;top:28.600px;font-size:31px;color:#fff;line-height:30px;">.</div><div style="left:173px;top:23.600px;font-size:33.500px;color:#fff;line-height:38px;transform-origin:0 0;transform:scaleX(0.840);">5</div>
</div>
</body>
</html>
